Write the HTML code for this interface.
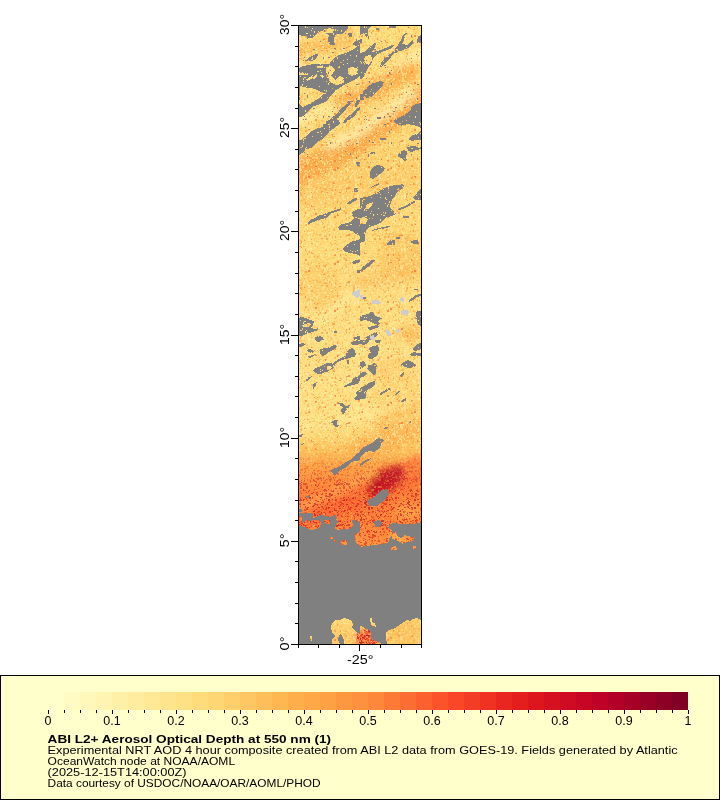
<!DOCTYPE html>
<html><head><meta charset="utf-8"><style>
html,body{margin:0;padding:0;background:#fff;width:720px;height:800px;overflow:hidden}
svg{position:absolute;left:0;top:0;display:block}
text{font-family:"Liberation Sans",sans-serif;fill:#000}
.ax{font-size:12.5px}
.cb{font-size:12.5px}
.lg{font-size:11.3px}
.lgb{font-size:11.3px;font-weight:bold}
</style></head><body>
<svg width="720" height="800" viewBox="0 0 720 800" shape-rendering="crispEdges">
<rect x="0" y="0" width="720" height="800" fill="#fff"/>
<g id="map">
<rect x="298" y="25" width="124" height="620" fill="#fed98a"/>
<defs>
<clipPath id="mc"><rect x="299" y="26" width="122" height="618"/></clipPath>
<clipPath id="z00"><rect x="298" y="20" width="62" height="80"/></clipPath>
<clipPath id="z10"><rect x="360" y="20" width="62" height="80"/></clipPath>
<clipPath id="z01"><rect x="298" y="100" width="62" height="80"/></clipPath>
<clipPath id="z11"><rect x="360" y="100" width="62" height="80"/></clipPath>
<clipPath id="z02"><rect x="298" y="180" width="62" height="80"/></clipPath>
<clipPath id="z12"><rect x="360" y="180" width="62" height="80"/></clipPath>
<clipPath id="z03"><rect x="298" y="260" width="62" height="80"/></clipPath>
<clipPath id="z13"><rect x="360" y="260" width="62" height="80"/></clipPath>
<clipPath id="z04"><rect x="298" y="340" width="62" height="80"/></clipPath>
<clipPath id="z14"><rect x="360" y="340" width="62" height="80"/></clipPath>
<clipPath id="z05"><rect x="298" y="420" width="62" height="80"/></clipPath>
<clipPath id="z15"><rect x="360" y="420" width="62" height="80"/></clipPath>
<clipPath id="z06"><rect x="298" y="500" width="62" height="80"/></clipPath>
<clipPath id="z16"><rect x="360" y="500" width="62" height="80"/></clipPath>
<clipPath id="z07"><rect x="298" y="580" width="62" height="80"/></clipPath>
<clipPath id="z17"><rect x="360" y="580" width="62" height="80"/></clipPath>
<clipPath id="zA1"><rect x="326" y="100" width="34" height="32"/></clipPath>
<clipPath id="zA2"><rect x="298" y="60" width="44" height="40"/></clipPath>
<clipPath id="zA3"><rect x="360" y="480" width="62" height="30"/></clipPath>
<pattern id="hol" width="59" height="61" patternUnits="userSpaceOnUse" x="299" y="26"><path fill="#000" d="M20 60h1v1h-1zM25 41h1v1h-1zM4 52h1v1h-1zM4 53h1v1h-1zM6 23h1v1h-1zM6 24h1v1h-1zM3 58h1v1h-1zM3 59h1v1h-1zM13 2h1v1h-1zM27 26h1v1h-1zM15 5h1v1h-1zM15 6h1v1h-1zM27 3h1v1h-1zM27 4h1v1h-1zM7 60h1v1h-1zM40 40h1v1h-1zM40 41h1v1h-1zM3 36h1v1h-1zM3 37h1v1h-1zM25 3h1v1h-1zM2 35h1v1h-1zM18 26h1v1h-1zM34 7h1v1h-1zM34 8h1v1h-1zM19 35h1v1h-1zM6 37h1v1h-1zM6 38h1v1h-1zM40 12h1v1h-1zM6 35h1v1h-1zM36 3h1v1h-1zM36 4h1v1h-1zM13 31h1v1h-1zM13 32h1v1h-1zM27 49h1v1h-1zM29 37h1v1h-1zM30 37h1v1h-1zM23 19h1v1h-1zM50 11h1v1h-1zM5 36h1v1h-1zM33 31h1v1h-1zM46 28h1v1h-1zM38 4h1v1h-1zM32 26h1v1h-1zM48 21h1v1h-1zM31 26h1v1h-1zM42 4h1v1h-1zM42 5h1v1h-1zM36 50h1v1h-1zM21 44h1v1h-1zM38 31h1v1h-1zM38 32h1v1h-1zM51 29h1v1h-1zM53 5h1v1h-1zM30 44h1v1h-1zM3 46h1v1h-1zM41 36h1v1h-1zM42 36h1v1h-1zM18 45h1v1h-1zM19 45h1v1h-1zM56 42h1v1h-1zM1 60h1v1h-1zM2 60h1v1h-1zM22 10h1v1h-1zM22 11h1v1h-1zM7 31h1v1h-1zM13 49h1v1h-1zM8 47h1v1h-1zM25 25h1v1h-1zM26 25h1v1h-1zM5 10h1v1h-1zM6 10h1v1h-1zM25 35h1v1h-1zM56 8h1v1h-1zM57 8h1v1h-1zM55 35h1v1h-1zM45 26h1v1h-1zM43 56h1v1h-1zM44 56h1v1h-1zM14 9h1v1h-1zM11 9h1v1h-1zM42 14h1v1h-1zM31 53h1v1h-1zM31 54h1v1h-1zM11 16h1v1h-1zM0 9h1v1h-1zM1 9h1v1h-1zM34 23h1v1h-1zM34 24h1v1h-1zM36 20h1v1h-1zM44 54h1v1h-1zM44 55h1v1h-1zM39 41h1v1h-1zM29 57h1v1h-1zM29 58h1v1h-1zM25 6h1v1h-1zM26 6h1v1h-1zM40 25h1v1h-1zM12 4h1v1h-1zM28 10h1v1h-1zM21 38h1v1h-1zM6 0h1v1h-1zM6 1h1v1h-1zM9 34h1v1h-1zM23 39h1v1h-1zM4 55h1v1h-1zM39 24h1v1h-1zM40 16h1v1h-1zM38 23h1v1h-1zM39 23h1v1h-1zM7 7h1v1h-1zM8 7h1v1h-1zM29 30h1v1h-1zM30 30h1v1h-1zM19 5h1v1h-1zM6 47h1v1h-1zM47 16h1v1h-1zM48 16h1v1h-1zM53 44h1v1h-1zM33 1h1v1h-1zM33 23h1v1h-1zM44 34h1v1h-1zM48 33h1v1h-1zM41 55h1v1h-1zM22 49h1v1h-1zM34 34h1v1h-1zM34 35h1v1h-1zM21 40h1v1h-1zM39 51h1v1h-1zM51 15h1v1h-1zM52 15h1v1h-1zM47 51h1v1h-1zM12 33h1v1h-1zM13 33h1v1h-1zM22 46h1v1h-1zM1 50h1v1h-1zM30 16h1v1h-1zM44 38h1v1h-1zM28 51h1v1h-1zM23 5h1v1h-1zM6 14h1v1h-1zM7 14h1v1h-1zM12 21h1v1h-1zM30 39h1v1h-1zM30 40h1v1h-1zM53 0h1v1h-1zM54 0h1v1h-1zM58 41h1v1h-1zM51 41h1v1h-1zM53 42h1v1h-1zM58 24h1v1h-1zM30 56h1v1h-1zM27 50h1v1h-1zM5 51h1v1h-1zM6 51h1v1h-1zM29 25h1v1h-1zM46 10h1v1h-1zM8 1h1v1h-1zM37 57h1v1h-1zM38 57h1v1h-1zM39 52h1v1h-1zM39 53h1v1h-1zM30 42h1v1h-1zM9 35h1v1h-1zM9 36h1v1h-1zM51 46h1v1h-1zM33 47h1v1h-1zM27 55h1v1h-1zM52 55h1v1h-1zM1 16h1v1h-1zM18 32h1v1h-1zM48 37h1v1h-1zM16 34h1v1h-1zM17 34h1v1h-1zM53 8h1v1h-1zM58 47h1v1h-1zM57 29h1v1h-1zM57 30h1v1h-1zM52 57h1v1h-1zM52 58h1v1h-1z"/></pattern><pattern id="gsp" width="61" height="59" patternUnits="userSpaceOnUse" x="299" y="26"><path fill="#fff" d="M14 23h1v1h-1zM15 23h1v1h-1zM8 12h1v1h-1zM5 8h1v1h-1zM51 32h1v1h-1zM25 41h1v1h-1zM29 31h1v1h-1zM30 31h1v1h-1zM24 31h1v1h-1zM24 32h1v1h-1zM12 57h1v1h-1zM13 57h1v1h-1zM5 31h1v1h-1zM48 1h1v1h-1zM33 26h1v1h-1zM34 26h1v1h-1zM57 58h1v1h-1zM58 58h1v1h-1zM46 7h1v1h-1zM6 52h1v1h-1zM24 39h1v1h-1zM25 39h1v1h-1zM6 42h1v1h-1zM21 15h1v1h-1zM31 57h1v1h-1zM31 58h1v1h-1zM57 13h1v1h-1zM57 14h1v1h-1zM51 9h1v1h-1zM51 10h1v1h-1zM4 34h1v1h-1zM31 44h1v1h-1zM9 55h1v1h-1zM9 56h1v1h-1zM29 46h1v1h-1zM29 47h1v1h-1zM56 28h1v1h-1zM35 22h1v1h-1zM36 22h1v1h-1zM8 10h1v1h-1zM8 11h1v1h-1zM6 34h1v1h-1zM44 22h1v1h-1zM45 22h1v1h-1z"/></pattern>
<mask id="gm" maskUnits="userSpaceOnUse" x="290" y="20" width="140" height="630">
<g clip-path="url(#z00)"><polygon points="298.50,25.50 324.00,25.50 324.00,29.00 322.00,31.00 318.00,32.00 316.50,34.00 313.00,37.50 308.00,38.00 305.50,35.50 302.00,36.00 298.50,35.00" fill="#fff"/><polygon points="324.00,25.50 348.00,25.50 348.00,28.00 345.50,31.50 342.00,34.00 338.00,33.50 335.00,35.00 334.00,40.00 335.00,45.00 332.00,45.50 329.00,44.00 328.00,40.00 329.00,35.00 326.00,34.00 324.00,32.00" fill="#fff"/><polygon points="348.00,33.00 352.00,33.00 352.00,37.00 349.00,37.00" fill="#fff"/><polygon points="352.00,44.00 356.00,41.00 360.00,40.00 360.00,45.00 356.00,46.00" fill="#fff"/><polygon points="306.00,61.00 308.00,58.00 312.00,56.00 317.00,53.50 318.00,55.00 316.00,58.50 313.00,60.50 309.50,61.50" fill="#fff"/><polygon points="298.80,68.00 302.00,66.50 306.00,65.50 311.00,64.50 317.00,64.00 321.00,63.50 325.00,64.50 329.00,63.00 333.00,60.00 335.00,57.50 338.00,55.50 342.00,54.00 346.00,53.00 350.00,51.00 354.00,49.00 358.00,46.00 360.00,45.00 360.00,76.00 356.00,79.00 350.00,82.00 344.00,85.00 338.00,89.00 334.00,92.00 330.00,96.00 328.00,100.00 306.00,100.00 298.80,100.00" fill="#fff"/><polygon points="325.00,29.00 330.00,28.00 334.00,29.50 333.00,33.00 328.00,33.50 325.50,32.00" fill="#000"/><polygon points="299.50,87.00 312.00,88.00 324.00,93.00 318.00,99.00 311.00,103.00 303.00,107.00 299.50,103.00" fill="#000"/><polygon points="326.00,67.00 332.00,66.00 335.00,70.00 331.00,76.00 335.00,80.00 340.00,76.00 344.00,78.00 342.00,84.00 336.00,85.00 330.00,82.00 328.00,76.00 326.00,72.00" fill="#000"/><polygon points="348.00,68.00 353.00,67.00 358.00,69.00 357.00,74.00 352.00,76.00 348.00,74.00" fill="#000"/><polygon points="317.00,66.00 323.00,65.50 323.00,68.00 317.00,68.50" fill="#000"/></g>
<g clip-path="url(#z10)"><polygon points="360.00,25.50 371.00,25.50 370.00,28.00 367.50,30.00 368.00,36.00 366.00,37.00 364.00,33.00 362.00,34.00 360.00,35.00" fill="#fff"/><polygon points="376.00,27.80 379.00,27.80 379.00,29.50 376.00,29.50" fill="#fff"/><polygon points="389.00,26.00 396.00,26.00 395.50,27.80 389.50,27.80" fill="#fff"/><polygon points="360.00,39.00 362.00,39.00 362.00,43.00 360.00,43.00" fill="#fff"/><polygon points="360.00,53.00 364.00,52.00 367.00,49.00 371.00,46.00 375.00,42.50 376.50,43.00 374.00,49.00 372.00,52.00 377.00,51.00 383.00,49.00 388.00,47.00 393.00,44.50 394.50,45.00 392.00,48.00 387.00,50.00 380.00,53.00 376.00,55.00 373.00,59.00 371.00,64.00 368.00,68.00 366.00,72.00 364.00,76.00 361.00,79.00 360.00,79.00" fill="#fff"/><polygon points="380.00,67.00 381.50,62.00 385.00,58.00 389.00,54.50 393.00,52.00 394.50,53.00 391.00,57.00 387.00,61.00 384.00,64.00 382.00,67.00" fill="#fff"/><polygon points="395.00,50.00 398.00,45.00 401.00,40.00 403.00,35.00 405.00,33.00 406.00,34.00 404.00,40.00 402.00,44.00 407.00,45.00 411.00,41.00 413.00,40.00 412.50,44.00 408.00,48.00 403.00,50.00 398.00,52.00 395.50,53.00" fill="#fff"/><polygon points="417.50,36.00 421.50,35.00 421.50,43.00 417.00,43.50 417.50,40.00" fill="#fff"/><polygon points="363.00,92.00 365.00,89.00 370.00,85.00 375.00,83.00 380.00,81.00 384.00,82.00 383.00,85.00 379.00,89.00 375.00,93.00 371.00,97.00 367.00,98.00 364.00,96.00" fill="#fff"/><polygon points="360.00,94.00 364.00,94.00 364.00,100.00 360.00,100.00" fill="#fff"/><polygon points="365.00,56.00 371.00,55.00 372.00,60.00 369.00,65.00 366.00,64.00 364.00,60.00" fill="#000"/></g>
<g clip-path="url(#z01)"><polygon points="298.80,99.00 318.00,99.00 327.00,99.00 327.00,100.00 325.00,102.00 320.00,104.00 314.00,106.00 310.00,109.00 307.00,113.00 303.00,116.00 298.80,117.50" fill="#fff"/><polygon points="298.80,140.00 301.00,140.00 305.00,137.00 309.00,133.00 314.00,130.00 321.00,127.00 326.00,124.00 330.00,121.00 333.00,117.50 336.00,115.00 340.00,123.00 337.00,126.00 333.00,129.00 329.00,132.00 325.00,136.00 321.00,140.00 316.00,143.00 313.00,147.00 307.00,149.00 302.00,153.00 298.80,156.00" fill="#fff"/><polygon points="356.00,162.00 360.00,162.00 360.00,166.00 357.00,166.00" fill="#fff"/><polygon points="298.80,87.00 312.00,88.00 324.00,93.00 318.00,99.00 311.00,103.00 303.00,107.00 298.80,103.00" fill="#000"/></g>
<g clip-path="url(#z11)"><polygon points="393.00,121.00 398.00,118.00 404.00,115.00 410.00,111.00 412.00,106.00 416.00,104.00 421.50,103.00 421.50,128.00 417.00,126.00 412.00,125.00 407.00,124.00 402.00,126.00 399.00,125.00 396.00,124.00" fill="#fff"/><polygon points="409.00,138.00 413.00,135.00 417.00,134.00 420.00,131.00 421.50,130.00 421.50,140.00 416.00,140.00 412.00,141.00 409.50,140.00" fill="#fff"/><polygon points="407.00,147.00 413.00,146.00 418.00,147.00 421.50,146.00 421.50,149.00 416.00,150.00 412.00,152.00 408.00,151.00" fill="#fff"/><polygon points="398.00,154.00 401.00,151.00 405.00,150.00 407.00,153.00 406.00,157.00 407.00,160.00 404.00,161.00 401.00,158.00 398.00,157.00" fill="#fff"/><polygon points="371.00,169.00 374.00,166.00 378.00,165.00 382.00,166.00 385.00,168.00 383.00,172.00 380.00,174.00 376.00,177.00 373.00,179.00 370.00,178.00 370.00,173.00" fill="#fff"/><polygon points="370.00,152.00 375.00,152.00 375.00,154.00 370.00,154.00" fill="#fff"/><polygon points="380.00,138.00 386.00,137.50 386.00,139.50 380.00,139.50" fill="#fff"/><polygon points="377.00,117.00 381.00,117.00 381.00,119.00 377.00,119.00" fill="#fff"/></g>
<g clip-path="url(#z02)"><polygon points="307.00,223.00 310.00,220.00 315.00,218.00 320.00,215.00 326.00,213.00 332.00,211.00 338.00,209.00 341.00,208.00 341.00,210.00 335.00,212.00 330.00,214.00 326.00,218.00 321.00,219.00 316.00,221.00 311.00,223.00 308.00,224.00" fill="#fff"/><polygon points="346.00,204.00 350.00,201.00 354.00,198.50 357.00,198.00 357.00,200.00 353.00,202.00 349.00,204.50" fill="#fff"/><polygon points="352.00,212.00 358.00,209.00 360.00,208.00 360.00,236.00 356.00,234.00 352.00,231.00 348.00,230.00 344.00,230.00 339.00,229.50 338.00,227.00 342.00,224.00 348.00,223.00 352.00,221.00 354.00,218.00 352.00,215.00" fill="#fff"/><polygon points="343.00,248.00 348.00,244.00 353.00,241.00 358.00,240.00 360.00,239.00 360.00,256.00 356.00,254.00 350.00,253.00 346.00,252.00 343.00,250.00" fill="#fff"/><polygon points="354.00,188.00 358.00,188.00 358.00,192.00 354.00,192.00" fill="#fff"/></g>
<g clip-path="url(#z12)"><polygon points="360.00,198.00 366.00,197.00 372.00,195.00 378.00,192.00 384.00,188.00 390.00,186.00 396.00,185.00 402.00,184.00 404.00,186.00 402.00,189.00 398.00,191.00 395.00,196.00 392.00,200.00 390.00,205.00 390.00,208.00 394.00,212.00 396.00,214.00 392.00,216.00 387.00,217.00 383.00,220.00 380.00,223.00 376.00,225.00 372.00,226.00 368.00,228.00 366.00,231.00 365.00,236.00 365.00,241.00 362.00,242.00 360.00,243.00" fill="#fff"/><polygon points="413.00,197.00 417.00,193.00 421.50,188.00 421.50,200.00 418.00,200.00 415.00,200.00" fill="#fff"/><polygon points="398.00,209.00 405.00,206.00 414.00,201.00 416.00,202.00 406.00,207.50 399.00,210.50" fill="#fff"/><polygon points="403.00,216.00 409.00,216.00 409.00,218.00 403.00,218.00" fill="#fff"/><polygon points="387.00,243.00 390.00,240.50 395.00,240.00 395.00,245.00 390.00,245.50 387.00,245.00" fill="#fff"/><polygon points="410.00,242.00 414.00,240.00 418.00,240.00 419.00,244.00 414.00,244.00" fill="#fff"/><polygon points="396.00,237.00 400.00,237.00 400.00,239.00 396.00,239.00" fill="#fff"/><polygon points="372.00,230.00 378.00,228.00 384.00,227.00 390.00,225.50 390.00,227.00 384.00,228.50 378.00,229.50 372.50,231.00" fill="#fff"/><polygon points="371.00,187.00 375.00,185.00 379.00,183.00 379.50,184.00 375.50,186.00 371.50,187.80" fill="#fff"/><polygon points="360.00,218.00 364.00,217.00 368.00,219.00 366.00,223.00 362.00,224.00 360.00,224.00" fill="#000"/><polygon points="366.00,205.00 370.00,203.00 373.00,202.00 372.00,206.00 368.00,209.00 366.00,209.00" fill="#000"/></g>
<g clip-path="url(#z03)"><polygon points="298.80,318.00 302.00,317.00 306.00,318.00 310.00,320.00 314.00,321.00 313.00,325.00 311.00,328.00 315.00,329.00 318.00,328.00 318.00,330.00 313.00,332.00 308.00,333.00 304.00,335.00 301.00,336.00 298.80,336.00" fill="#fff"/><polygon points="315.00,337.00 318.00,336.00 323.00,337.00 324.00,340.00 315.00,340.00" fill="#fff"/><polygon points="354.00,337.00 360.00,336.00 360.00,340.00 354.00,340.00" fill="#fff"/><polygon points="351.00,263.00 356.00,260.00 360.00,260.00 360.00,262.00 354.00,264.00" fill="#fff"/><polygon points="357.00,270.00 360.00,270.00 360.00,273.00 357.00,273.00" fill="#fff"/><polygon points="334.00,331.00 337.00,331.00 337.00,333.00 334.00,333.00" fill="#fff"/><polygon points="302.00,325.00 308.00,323.00 312.00,324.00 308.00,327.00 303.00,327.00" fill="#000"/></g>
<g clip-path="url(#z13)"><polygon points="360.00,269.00 364.00,266.00 368.00,263.00 371.00,260.00 376.00,260.00 372.00,263.00 368.00,267.00 364.00,270.00 360.00,271.50" fill="#fff"/><polygon points="363.00,297.00 366.00,297.00 366.00,299.00 363.00,299.00" fill="#fff"/><polygon points="360.00,316.00 364.00,315.00 368.00,314.00 371.00,312.00 373.00,311.50 374.00,315.00 378.00,317.00 382.00,318.00 381.00,320.00 377.00,321.00 380.00,324.00 378.00,325.00 373.00,323.00 369.00,321.00 365.00,320.00 360.00,321.00" fill="#fff"/><polygon points="367.00,328.00 372.00,326.00 377.00,325.00 379.00,327.00 374.00,329.00 369.00,330.00" fill="#fff"/><polygon points="366.00,337.00 372.00,334.00 377.00,332.00 378.00,335.00 374.00,338.00 371.00,340.00 366.00,340.00" fill="#fff"/><polygon points="416.00,311.00 420.00,311.00 421.50,310.00 421.50,326.00 418.00,325.00 417.00,321.00 416.00,316.00" fill="#fff"/><polygon points="408.00,301.00 412.00,298.00 416.00,295.00 420.00,294.00 421.50,293.00 421.50,296.00 417.00,297.00 413.00,300.00 409.00,302.00" fill="#fff"/><polygon points="414.00,289.00 418.00,289.00 418.00,290.00 414.00,290.00" fill="#fff"/></g>
<g clip-path="url(#z04)"><polygon points="298.80,344.00 303.00,343.00 305.00,345.00 301.00,347.00 298.80,347.50" fill="#fff"/><polygon points="316.00,340.00 321.00,340.00 320.00,342.00 317.00,342.00" fill="#fff"/><polygon points="306.00,350.00 310.00,349.00 314.00,351.00 312.00,353.00 308.00,352.00" fill="#fff"/><polygon points="307.00,357.00 312.00,355.00 315.00,354.00 314.00,356.00 310.00,358.00" fill="#fff"/><polygon points="313.00,370.00 317.00,367.50 322.00,365.50 326.00,363.50 330.00,363.00 333.00,364.00 335.00,365.50 333.00,368.50 330.00,370.00 327.00,372.00 322.00,373.50 318.00,374.00 315.00,373.00" fill="#fff"/><polygon points="332.00,364.50 335.00,361.50 338.00,359.50 342.00,357.50 345.50,356.00 347.00,352.00 349.00,349.50 352.50,348.00 354.50,350.00 356.00,354.00 354.50,357.00 351.00,357.50 348.00,358.50 344.00,359.50 340.00,361.00 337.00,363.00 334.50,365.00" fill="#fff"/><polygon points="346.50,359.50 348.50,359.50 348.50,364.00 347.00,363.50" fill="#fff"/><polygon points="320.00,349.00 325.00,348.00 330.00,347.00 334.00,345.00 337.00,346.00 335.00,349.00 331.00,351.00 328.00,352.00 325.00,355.00 322.00,356.00 320.00,353.00" fill="#fff"/><polygon points="350.00,343.00 354.00,341.00 358.00,340.00 360.00,340.00 360.00,344.00 356.00,345.00 352.00,345.00" fill="#fff"/><polygon points="305.00,380.00 309.00,377.00 312.00,376.00 311.00,378.00 307.00,381.00" fill="#fff"/><polygon points="344.00,386.00 348.00,384.00 352.00,382.00 353.00,378.00 357.00,377.00 360.00,375.00 360.00,382.00 357.00,384.00 353.00,385.00 348.00,386.00 345.00,387.50" fill="#fff"/><polygon points="356.00,392.00 360.00,390.00 360.00,400.00 355.00,400.00 354.00,398.00 357.00,396.00" fill="#fff"/><polygon points="338.00,403.00 342.00,403.00 346.00,406.00 350.00,405.00 349.00,408.00 346.00,410.00 344.00,414.00 342.00,414.00 341.00,410.00 343.00,407.00 339.00,405.00" fill="#fff"/><polygon points="313.00,384.00 317.00,382.00 316.00,385.00 314.00,388.00 313.00,390.00 312.50,387.00" fill="#fff"/><polygon points="326.50,366.50 330.00,365.50 332.00,367.00 330.00,369.50 327.50,369.50" fill="#000"/></g>
<g clip-path="url(#z14)"><polygon points="360.00,340.00 370.00,340.00 368.00,343.00 364.00,345.00 360.00,344.00" fill="#fff"/><polygon points="375.00,340.00 381.00,340.00 381.00,342.50 376.00,343.00" fill="#fff"/><polygon points="369.00,347.00 374.00,346.00 378.00,345.00 379.00,348.00 378.00,355.00 375.00,357.00 372.00,359.00 369.00,359.00 368.00,356.00 370.00,352.00" fill="#fff"/><polygon points="367.00,366.00 371.00,364.00 374.00,363.00 377.00,365.00 376.00,369.00 376.00,374.00 373.00,375.00 370.00,371.00 367.00,369.00" fill="#fff"/><polygon points="360.00,362.00 364.00,361.00 366.00,365.00 363.00,368.00 360.00,369.00" fill="#fff"/><polygon points="360.00,373.00 364.00,372.00 367.00,373.00 364.00,377.00 360.00,378.00" fill="#fff"/><polygon points="360.00,388.00 366.00,385.00 371.00,382.00 375.00,381.00 375.00,384.00 371.00,388.00 367.00,390.00 366.00,394.00 366.00,398.00 363.00,399.00 360.00,398.50" fill="#fff"/><polygon points="412.00,349.00 416.00,345.00 420.00,343.00 421.50,343.00 421.50,349.00 418.00,350.00 415.00,351.00" fill="#fff"/><polygon points="410.00,354.00 414.00,352.00 418.00,353.00 421.50,353.00 421.50,356.00 416.00,356.00 411.00,356.00" fill="#fff"/><polygon points="400.00,365.00 404.00,362.00 408.00,360.00 412.00,362.00 416.00,365.00 414.00,367.00 409.00,368.00 405.00,367.00 402.00,366.00" fill="#fff"/><polygon points="400.00,376.00 403.00,372.00 404.50,373.00 402.00,377.00" fill="#fff"/><polygon points="379.00,394.00 384.00,391.00 389.00,388.00 391.00,389.00 386.00,392.00 381.00,395.00" fill="#fff"/><polygon points="395.00,395.00 398.00,391.50 400.50,390.50 399.00,393.00 396.00,395.50" fill="#fff"/><polygon points="400.00,402.00 404.00,399.00 406.00,397.00 406.50,400.00 402.00,402.50" fill="#fff"/></g>
<g clip-path="url(#z05)"><polygon points="331.00,422.00 335.00,420.00 338.00,420.00 337.00,423.00 339.00,426.00 336.00,427.50 334.00,425.00 332.00,424.00" fill="#fff"/><polygon points="298.80,435.00 303.00,434.00 302.00,436.50 298.80,437.00" fill="#fff"/><polygon points="301.00,444.00 304.00,443.00 304.00,445.00 301.00,445.50" fill="#fff"/><polygon points="331.00,470.00 335.00,468.00 339.00,467.00 343.00,464.00 346.00,462.00 350.00,460.00 352.00,458.00 354.00,456.00 358.00,453.00 360.00,452.00 360.00,460.00 357.00,461.00 354.00,461.00 351.00,462.00 348.00,465.00 345.00,468.00 341.00,470.00 338.00,472.00 335.00,475.00 332.00,473.00" fill="#fff"/><polygon points="306.00,496.00 309.00,495.00 310.00,497.00 307.00,498.00" fill="#fff"/></g>
<g clip-path="url(#z15)"><polygon points="360.00,450.00 364.00,447.00 368.00,445.00 372.00,443.00 376.00,439.00 380.00,438.00 384.00,440.00 382.00,442.00 380.00,447.00 377.00,450.00 374.00,452.00 370.00,451.00 366.00,452.00 362.00,455.00 360.00,457.00" fill="#fff"/><polygon points="360.00,464.00 364.00,461.00 368.00,459.00 371.00,458.00 370.00,460.00 366.00,462.00 362.00,465.00 360.00,466.00" fill="#fff"/><polygon points="383.00,428.00 387.00,427.00 388.00,428.00 385.00,429.50" fill="#fff"/><polygon points="380.00,492.00 384.00,490.00 386.50,491.00 384.00,493.50 381.00,493.50" fill="#fff"/><polygon points="409.00,421.00 411.00,421.00 411.00,423.00 409.00,423.00" fill="#fff"/></g>
<g clip-path="url(#z06)"><polygon points="299.00,513.00 302.00,513.50 306.00,513.00 310.00,512.50 313.00,514.00 313.50,518.00 318.00,516.00 322.00,515.00 326.00,516.00 329.00,517.00 332.00,516.00 336.00,515.00 337.00,518.00 336.00,520.00 338.00,522.00 336.00,525.00 335.00,529.00 338.00,530.00 344.00,529.00 350.00,529.00 353.00,525.00 352.00,520.00 355.00,520.00 358.00,522.00 360.10,520.00 360.10,581.00 299.00,581.00" fill="#fff"/><polygon points="299.00,509.00 302.00,509.00 302.00,511.50 299.00,511.50" fill="#fff"/><polygon points="299.00,516.00 302.00,517.00 302.00,523.00 304.00,522.00 306.00,520.00 310.00,521.00 314.00,520.00 319.00,520.00 321.00,523.00 320.00,527.00 316.00,529.00 311.00,530.00 307.00,528.00 304.00,527.00 301.00,526.00 299.00,526.00" fill="#000"/><polygon points="324.00,520.00 330.00,520.00 330.50,523.50 325.00,523.50" fill="#000"/><polygon points="355.00,534.00 360.10,532.00 360.10,547.00 356.00,543.00 355.00,539.00" fill="#000"/><polygon points="330.00,537.00 333.00,537.00 333.00,539.00 330.00,539.00" fill="#000"/><polygon points="334.00,540.00 336.00,540.00 336.00,542.00 334.00,542.00" fill="#000"/><polygon points="340.00,542.00 344.00,540.00 347.00,540.00 347.00,545.00 342.00,545.00" fill="#000"/></g>
<g clip-path="url(#z16)"><polygon points="350.00,519.00 353.00,520.00 356.00,523.00 356.00,529.00 354.00,532.00 355.00,535.00 356.00,540.00 357.00,544.00 360.00,547.00 365.00,546.00 375.00,545.00 383.00,544.00 389.00,542.00 389.00,538.00 392.00,535.00 392.00,530.00 388.00,528.00 390.00,524.00 393.00,523.00 402.00,524.00 410.00,524.50 418.00,523.00 422.00,522.00 422.00,581.00 350.00,581.00" fill="#fff"/><polygon points="368.00,502.00 374.00,501.00 374.00,506.00 369.00,506.00" fill="#fff"/><polygon points="374.00,521.00 379.00,520.00 382.00,523.00 380.00,527.00 375.00,527.00" fill="#fff"/><polygon points="392.00,533.00 396.00,532.00 397.00,536.00 401.00,538.00 404.00,535.00 408.00,536.00 414.00,538.00 413.00,541.00 407.00,542.00 402.00,544.00 400.00,542.00 396.00,540.00 392.00,539.00" fill="#000"/><polygon points="391.00,547.00 396.00,546.00 397.00,550.00 391.00,550.00" fill="#000"/><polygon points="413.00,546.00 416.00,546.00 416.00,549.00 413.00,549.00" fill="#000"/></g>
<g clip-path="url(#z07)"><polygon points="298.80,580.00 360.00,580.00 360.00,646.00 298.80,646.00" fill="#fff"/><polygon points="332.00,623.00 335.00,620.00 340.00,620.00 344.00,618.00 348.00,619.00 352.00,621.00 353.00,624.00 352.00,628.00 356.00,632.00 360.00,634.00 360.00,644.00 344.00,644.00 344.00,640.00 342.00,636.00 340.00,634.00 338.00,640.00 340.00,644.00 332.00,644.00 332.00,640.00 335.00,636.00 332.00,632.00 331.00,628.00" fill="#000"/><polygon points="310.00,636.00 312.00,636.00 312.50,641.00 311.00,641.00" fill="#000"/></g>
<g clip-path="url(#z17)"><polygon points="360.00,580.00 421.50,580.00 421.50,646.00 360.00,646.00" fill="#fff"/><polygon points="360.00,626.00 363.00,627.00 366.00,629.00 369.00,630.00 371.00,633.00 371.00,638.00 374.00,641.00 380.00,642.00 381.00,644.00 360.00,644.00" fill="#000"/><polygon points="370.00,618.00 371.50,618.00 371.50,622.00 375.00,623.00 376.00,627.00 373.00,626.00 371.00,625.00 370.50,622.00" fill="#000"/><polygon points="386.00,632.00 389.00,630.00 392.00,629.00 395.00,628.00 398.00,626.00 401.00,624.00 404.00,622.00 407.00,620.00 410.00,621.00 413.00,619.00 417.00,618.00 419.00,619.00 421.50,620.00 421.50,644.00 387.00,644.00 386.00,638.00" fill="#000"/></g>
<g clip-path="url(#zA1)"><polygon points="326.00,121.34 329.67,120.12 333.33,116.45 336.39,114.62 338.22,112.17 341.28,107.89 344.34,106.67 347.39,101.78 350.45,100.56 352.89,101.17 351.67,103.00 349.23,104.84 346.78,107.89 345.56,110.34 342.50,113.39 340.06,115.23 338.22,118.28 336.39,119.51 333.95,122.56 331.50,125.01 329.67,128.67 327.83,132.04 326.00,132.04" fill="#fff"/><polygon points="343.11,121.95 345.56,118.89 348.00,116.45 351.67,114.00 353.51,112.17 355.34,109.73 357.78,107.89 360.23,107.28 360.23,109.11 357.78,111.56 355.34,115.23 352.89,117.67 350.45,118.89 348.00,120.73 345.56,122.56 343.73,123.17" fill="#fff"/><polygon points="354.73,104.22 356.56,101.17 359.01,98.11 361.45,95.67 363.29,94.44 363.90,95.67 362.06,98.11 360.23,101.17 358.40,104.22 356.56,106.67 355.34,106.67" fill="#fff"/><polygon points="363.90,94.44 367.56,93.83 370.01,93.83 370.01,98.11 367.56,98.11" fill="#fff"/></g>
<g clip-path="url(#zA2)"><polygon points="305.95,79.56 309.00,77.73 311.45,75.89 313.28,77.73 310.22,79.56 307.17,80.78" fill="#000"/><polygon points="312.67,78.34 315.11,75.28 316.95,74.06 317.56,75.89 315.73,78.34 313.89,79.56" fill="#000"/><polygon points="299.22,72.22 304.11,73.45 307.78,74.06 307.78,75.28 302.89,75.28 299.22,74.67" fill="#000"/><polygon points="320.00,75.28 321.84,74.67 323.67,76.50 322.45,77.73" fill="#000"/></g>
<g clip-path="url(#zA3)"><polygon points="366.80,500.85 373.58,497.46 380.36,490.68 387.14,488.98 388.83,494.07 383.75,500.85 376.97,505.93 370.19,505.93" fill="#fff"/></g>
<rect x="299" y="26" width="122" height="140" fill="url(#gsp)"/>
<rect x="299" y="26" width="122" height="420" fill="url(#hol)"/>
</mask>
</defs>
<g clip-path="url(#mc)">
<defs><linearGradient id="gy" x1="0" y1="26" x2="0" y2="644" gradientUnits="userSpaceOnUse"><stop offset="0.0000" stop-color="#fff" stop-opacity="1"/><stop offset="0.6699" stop-color="#fff" stop-opacity="1"/><stop offset="0.7104" stop-color="#fff" stop-opacity="0.3"/><stop offset="0.7508" stop-color="#fff" stop-opacity="0"/><stop offset="0.8398" stop-color="#fff" stop-opacity="0"/><stop offset="0.8641" stop-color="#fff" stop-opacity="0.6"/><stop offset="1.0000" stop-color="#fff" stop-opacity="0.8"/></linearGradient>
<linearGradient id="gr" x1="0" y1="26" x2="0" y2="644" gradientUnits="userSpaceOnUse"><stop offset="0.0000" stop-color="#fff" stop-opacity="0"/><stop offset="0.6893" stop-color="#fff" stop-opacity="0"/><stop offset="0.7314" stop-color="#fff" stop-opacity="0.6"/><stop offset="0.7540" stop-color="#fff" stop-opacity="0.9"/><stop offset="0.8155" stop-color="#fff" stop-opacity="0.9"/><stop offset="0.8447" stop-color="#fff" stop-opacity="0.6"/><stop offset="0.8641" stop-color="#fff" stop-opacity="0"/><stop offset="1.0000" stop-color="#fff" stop-opacity="0"/></linearGradient>
<mask id="my" maskUnits="userSpaceOnUse" x="299" y="26" width="122" height="618"><rect x="299" y="26" width="122" height="618" fill="url(#gy)"/></mask>
<mask id="mr" maskUnits="userSpaceOnUse" x="299" y="26" width="122" height="618"><rect x="299" y="26" width="122" height="618" fill="url(#gr)"/><ellipse cx="368" cy="638" rx="12" ry="8" fill="#fff"/></mask>
<pattern id="spo" width="53" height="47" patternUnits="userSpaceOnUse" x="299" y="26"><path fill="#feba54" d="M8 36h1v1h-1zM40 46h1v1h-1zM41 46h1v1h-1zM15 25h1v1h-1zM15 26h1v1h-1zM12 32h1v1h-1zM12 33h1v1h-1zM28 14h1v1h-1zM28 15h1v1h-1zM29 14h1v1h-1zM29 15h1v1h-1zM49 45h1v1h-1zM49 46h1v1h-1zM50 45h1v1h-1zM50 46h1v1h-1zM8 37h1v1h-1zM8 38h1v1h-1zM9 37h1v1h-1zM9 38h1v1h-1zM0 18h1v1h-1zM0 19h1v1h-1zM1 18h1v1h-1zM1 19h1v1h-1zM47 44h1v1h-1zM28 27h1v1h-1zM28 28h1v1h-1zM29 27h1v1h-1zM29 28h1v1h-1zM34 29h1v1h-1zM31 0h1v1h-1zM41 28h1v1h-1zM24 27h1v1h-1zM24 28h1v1h-1zM28 10h1v1h-1zM28 11h1v1h-1zM29 10h1v1h-1zM29 11h1v1h-1zM43 46h1v1h-1zM51 19h1v1h-1zM51 20h1v1h-1zM45 26h1v1h-1zM45 27h1v1h-1zM46 26h1v1h-1zM46 27h1v1h-1zM43 19h1v1h-1zM7 39h1v1h-1zM15 18h1v1h-1zM15 19h1v1h-1zM8 2h1v1h-1zM9 2h1v1h-1zM2 24h1v1h-1zM13 21h1v1h-1zM14 21h1v1h-1zM22 17h1v1h-1zM23 17h1v1h-1zM4 13h1v1h-1zM47 42h1v1h-1zM47 43h1v1h-1zM48 42h1v1h-1zM48 43h1v1h-1zM29 7h1v1h-1zM29 8h1v1h-1zM26 16h1v1h-1zM26 17h1v1h-1zM27 16h1v1h-1zM27 17h1v1h-1zM17 27h1v1h-1zM18 27h1v1h-1zM18 43h1v1h-1zM18 44h1v1h-1zM19 43h1v1h-1zM19 44h1v1h-1zM44 12h1v1h-1zM45 17h1v1h-1zM23 46h1v1h-1zM30 36h1v1h-1zM30 37h1v1h-1zM49 3h1v1h-1zM49 4h1v1h-1zM50 3h1v1h-1zM50 4h1v1h-1zM50 43h1v1h-1zM50 44h1v1h-1zM41 42h1v1h-1zM17 8h1v1h-1zM24 37h1v1h-1z"/><path fill="#fec965" d="M28 30h1v1h-1zM28 31h1v1h-1zM31 32h1v1h-1zM31 33h1v1h-1zM11 35h1v1h-1zM11 36h1v1h-1zM12 35h1v1h-1zM12 36h1v1h-1zM44 20h1v1h-1zM44 21h1v1h-1zM13 3h1v1h-1zM14 3h1v1h-1zM20 6h1v1h-1zM37 38h1v1h-1zM17 35h1v1h-1zM10 3h1v1h-1zM25 36h1v1h-1zM25 37h1v1h-1zM17 15h1v1h-1zM17 16h1v1h-1zM29 32h1v1h-1zM13 5h1v1h-1zM6 26h1v1h-1zM7 26h1v1h-1zM11 26h1v1h-1zM11 27h1v1h-1zM12 26h1v1h-1zM12 27h1v1h-1zM4 40h1v1h-1zM4 41h1v1h-1zM5 40h1v1h-1zM5 41h1v1h-1zM45 31h1v1h-1zM45 32h1v1h-1zM45 3h1v1h-1zM19 27h1v1h-1zM20 27h1v1h-1zM16 9h1v1h-1zM16 10h1v1h-1zM17 9h1v1h-1zM17 10h1v1h-1zM14 40h1v1h-1zM15 40h1v1h-1zM29 3h1v1h-1zM40 11h1v1h-1zM40 12h1v1h-1z"/><path fill="#feab49" d="M1 24h1v1h-1zM1 25h1v1h-1zM38 46h1v1h-1zM22 0h1v1h-1zM22 1h1v1h-1zM23 0h1v1h-1zM23 1h1v1h-1zM5 1h1v1h-1zM5 2h1v1h-1zM22 6h1v1h-1zM25 18h1v1h-1zM8 21h1v1h-1zM10 43h1v1h-1zM19 2h1v1h-1zM20 2h1v1h-1zM31 30h1v1h-1zM16 31h1v1h-1zM37 8h1v1h-1zM4 32h1v1h-1zM5 32h1v1h-1zM13 19h1v1h-1zM14 19h1v1h-1zM23 10h1v1h-1zM23 11h1v1h-1zM42 43h1v1h-1zM17 19h1v1h-1zM17 20h1v1h-1zM18 19h1v1h-1zM18 20h1v1h-1zM22 19h1v1h-1zM22 20h1v1h-1zM23 19h1v1h-1zM23 20h1v1h-1zM43 36h1v1h-1zM43 37h1v1h-1zM25 21h1v1h-1zM25 22h1v1h-1zM26 21h1v1h-1zM26 22h1v1h-1zM17 4h1v1h-1zM42 23h1v1h-1zM42 24h1v1h-1zM25 11h1v1h-1zM25 12h1v1h-1zM10 37h1v1h-1zM10 38h1v1h-1zM31 6h1v1h-1zM46 39h1v1h-1zM46 40h1v1h-1zM9 1h1v1h-1zM12 1h1v1h-1zM12 2h1v1h-1zM35 26h1v1h-1zM35 27h1v1h-1zM36 26h1v1h-1zM36 27h1v1h-1zM27 42h1v1h-1zM27 2h1v1h-1zM37 30h1v1h-1zM0 33h1v1h-1zM8 3h1v1h-1zM8 4h1v1h-1zM9 3h1v1h-1zM9 4h1v1h-1zM9 16h1v1h-1zM26 12h1v1h-1zM44 44h1v1h-1zM29 17h1v1h-1zM30 17h1v1h-1zM16 43h1v1h-1zM17 43h1v1h-1zM34 18h1v1h-1zM34 19h1v1h-1zM33 44h1v1h-1zM3 23h1v1h-1zM51 41h1v1h-1zM32 7h1v1h-1zM37 9h1v1h-1zM9 17h1v1h-1zM10 17h1v1h-1z"/><path fill="#fec25d" d="M44 28h1v1h-1zM45 28h1v1h-1zM39 37h1v1h-1zM39 38h1v1h-1zM40 37h1v1h-1zM40 38h1v1h-1zM21 29h1v1h-1zM21 30h1v1h-1zM22 29h1v1h-1zM22 30h1v1h-1zM15 17h1v1h-1zM10 42h1v1h-1zM11 42h1v1h-1zM24 21h1v1h-1zM24 22h1v1h-1zM27 1h1v1h-1zM36 20h1v1h-1zM36 21h1v1h-1zM19 10h1v1h-1zM19 11h1v1h-1zM51 36h1v1h-1zM4 46h1v1h-1zM16 23h1v1h-1zM17 23h1v1h-1zM36 34h1v1h-1zM12 15h1v1h-1zM12 16h1v1h-1zM13 15h1v1h-1zM13 16h1v1h-1zM20 38h1v1h-1zM20 39h1v1h-1zM39 34h1v1h-1zM39 35h1v1h-1zM38 32h1v1h-1zM38 33h1v1h-1zM39 32h1v1h-1zM39 33h1v1h-1zM52 38h1v1h-1zM1 10h1v1h-1zM1 11h1v1h-1zM2 10h1v1h-1zM2 11h1v1h-1zM5 25h1v1h-1zM6 25h1v1h-1zM29 33h1v1h-1zM19 25h1v1h-1zM11 6h1v1h-1zM28 1h1v1h-1zM28 2h1v1h-1zM29 1h1v1h-1zM29 2h1v1h-1zM19 41h1v1h-1zM19 42h1v1h-1zM20 41h1v1h-1zM20 42h1v1h-1zM29 38h1v1h-1zM30 38h1v1h-1zM34 43h1v1h-1zM35 43h1v1h-1zM37 23h1v1h-1zM37 24h1v1h-1zM14 46h1v1h-1zM49 6h1v1h-1zM49 7h1v1h-1zM48 6h1v1h-1zM30 44h1v1h-1zM31 44h1v1h-1zM23 38h1v1h-1zM23 39h1v1h-1zM7 8h1v1h-1zM19 39h1v1h-1zM24 1h1v1h-1zM46 6h1v1h-1zM47 6h1v1h-1zM17 34h1v1h-1zM39 19h1v1h-1zM39 20h1v1h-1zM18 21h1v1h-1zM18 22h1v1h-1zM7 37h1v1h-1zM24 42h1v1h-1zM24 43h1v1h-1zM25 42h1v1h-1zM25 43h1v1h-1z"/><path fill="#feb24c" d="M6 20h1v1h-1zM44 43h1v1h-1zM45 43h1v1h-1zM46 1h1v1h-1zM46 2h1v1h-1zM32 14h1v1h-1zM47 32h1v1h-1zM18 4h1v1h-1zM46 10h1v1h-1zM46 11h1v1h-1zM37 12h1v1h-1zM37 13h1v1h-1zM18 32h1v1h-1zM18 33h1v1h-1zM43 34h1v1h-1zM43 35h1v1h-1zM34 13h1v1h-1zM35 13h1v1h-1zM24 4h1v1h-1zM24 5h1v1h-1zM25 4h1v1h-1zM25 5h1v1h-1zM50 2h1v1h-1zM51 2h1v1h-1zM37 19h1v1h-1zM8 13h1v1h-1zM36 1h1v1h-1zM30 14h1v1h-1zM30 15h1v1h-1zM46 3h1v1h-1zM46 4h1v1h-1zM37 1h1v1h-1zM16 13h1v1h-1zM1 7h1v1h-1zM1 8h1v1h-1zM2 7h1v1h-1zM2 8h1v1h-1zM33 20h1v1h-1zM44 10h1v1h-1zM44 11h1v1h-1zM23 33h1v1h-1zM41 18h1v1h-1zM37 27h1v1h-1zM10 19h1v1h-1zM10 20h1v1h-1zM11 19h1v1h-1zM11 20h1v1h-1zM21 45h1v1h-1zM48 15h1v1h-1zM49 15h1v1h-1zM1 13h1v1h-1zM28 45h1v1h-1zM29 45h1v1h-1zM24 16h1v1h-1zM19 0h1v1h-1zM16 41h1v1h-1zM50 37h1v1h-1zM33 35h1v1h-1zM33 36h1v1h-1zM34 35h1v1h-1zM34 36h1v1h-1zM18 10h1v1h-1zM25 39h1v1h-1zM25 40h1v1h-1zM26 39h1v1h-1zM26 40h1v1h-1zM34 33h1v1h-1zM34 34h1v1h-1zM28 19h1v1h-1zM38 30h1v1h-1zM48 11h1v1h-1zM48 12h1v1h-1zM49 11h1v1h-1zM49 12h1v1h-1zM40 34h1v1h-1zM14 36h1v1h-1zM43 40h1v1h-1zM44 40h1v1h-1zM33 16h1v1h-1zM33 17h1v1h-1zM47 23h1v1h-1zM6 29h1v1h-1zM21 42h1v1h-1zM46 12h1v1h-1zM46 13h1v1h-1zM47 12h1v1h-1zM47 13h1v1h-1z"/><path fill="#fd7435" d="M0 24h1v1h-1zM36 22h1v1h-1zM36 23h1v1h-1zM35 16h1v1h-1zM6 45h1v1h-1zM6 46h1v1h-1zM7 45h1v1h-1zM7 46h1v1h-1zM2 33h1v1h-1zM17 5h1v1h-1zM38 34h1v1h-1zM38 35h1v1h-1zM6 35h1v1h-1zM6 36h1v1h-1zM1 29h1v1h-1zM1 30h1v1h-1zM34 15h1v1h-1zM34 16h1v1h-1z"/><path fill="#fd8038" d="M33 14h1v1h-1zM33 15h1v1h-1zM46 45h1v1h-1zM46 46h1v1h-1zM47 45h1v1h-1zM47 46h1v1h-1zM27 3h1v1h-1zM27 4h1v1h-1zM5 17h1v1h-1zM22 24h1v1h-1zM22 25h1v1h-1zM23 24h1v1h-1zM23 25h1v1h-1zM19 6h1v1h-1zM19 7h1v1h-1zM51 1h1v1h-1z"/><path fill="#fea346" d="M22 14h1v1h-1zM42 12h1v1h-1zM43 12h1v1h-1zM35 14h1v1h-1zM35 15h1v1h-1zM31 28h1v1h-1zM31 29h1v1h-1zM32 30h1v1h-1zM32 31h1v1h-1zM33 30h1v1h-1zM33 31h1v1h-1zM20 20h1v1h-1zM20 21h1v1h-1zM21 20h1v1h-1zM21 21h1v1h-1zM2 22h1v1h-1zM2 23h1v1h-1zM35 10h1v1h-1zM36 10h1v1h-1zM23 8h1v1h-1zM23 9h1v1h-1zM24 8h1v1h-1zM24 9h1v1h-1zM0 5h1v1h-1zM0 6h1v1h-1zM50 24h1v1h-1zM50 25h1v1h-1zM41 8h1v1h-1zM41 9h1v1h-1zM32 22h1v1h-1zM32 23h1v1h-1zM33 22h1v1h-1zM33 23h1v1h-1zM51 39h1v1h-1zM46 22h1v1h-1zM47 22h1v1h-1zM50 14h1v1h-1zM50 15h1v1h-1zM51 14h1v1h-1zM51 15h1v1h-1z"/><path fill="#fd943f" d="M1 26h1v1h-1zM1 27h1v1h-1zM2 26h1v1h-1zM2 27h1v1h-1zM20 4h1v1h-1zM20 5h1v1h-1zM21 4h1v1h-1zM21 5h1v1h-1zM46 41h1v1h-1zM47 41h1v1h-1zM8 39h1v1h-1zM8 40h1v1h-1zM47 4h1v1h-1zM47 5h1v1h-1zM13 39h1v1h-1zM14 39h1v1h-1zM0 32h1v1h-1zM1 32h1v1h-1zM41 22h1v1h-1zM41 23h1v1h-1zM3 21h1v1h-1z"/><path fill="#fd8d3c" d="M6 10h1v1h-1zM6 11h1v1h-1zM7 10h1v1h-1zM7 11h1v1h-1zM43 6h1v1h-1zM43 7h1v1h-1zM27 24h1v1h-1zM27 25h1v1h-1zM28 24h1v1h-1zM28 25h1v1h-1zM41 36h1v1h-1zM42 36h1v1h-1zM49 9h1v1h-1zM12 29h1v1h-1zM12 30h1v1h-1zM13 29h1v1h-1zM13 30h1v1h-1zM30 20h1v1h-1zM30 21h1v1h-1zM10 7h1v1h-1z"/><path fill="#fc5b2e" d="M16 46h1v1h-1zM16 0h1v1h-1zM17 46h1v1h-1zM17 0h1v1h-1zM35 2h1v1h-1zM35 3h1v1h-1zM36 2h1v1h-1zM36 3h1v1h-1zM18 42h1v1h-1zM27 22h1v1h-1zM38 0h1v1h-1zM38 1h1v1h-1zM39 0h1v1h-1zM39 1h1v1h-1zM9 9h1v1h-1zM9 10h1v1h-1zM10 9h1v1h-1zM10 10h1v1h-1z"/><path fill="#fc6731" d="M36 29h1v1h-1zM26 4h1v1h-1zM26 5h1v1h-1zM5 26h1v1h-1zM49 20h1v1h-1zM49 21h1v1h-1zM50 20h1v1h-1zM50 21h1v1h-1zM24 13h1v1h-1zM25 13h1v1h-1zM40 25h1v1h-1zM41 25h1v1h-1zM15 42h1v1h-1zM12 25h1v1h-1zM35 40h1v1h-1zM35 41h1v1h-1zM36 40h1v1h-1zM36 41h1v1h-1zM2 28h1v1h-1zM8 16h1v1h-1zM8 17h1v1h-1zM47 24h1v1h-1zM47 21h1v1h-1zM48 21h1v1h-1zM12 38h1v1h-1zM12 39h1v1h-1zM45 44h1v1h-1zM41 40h1v1h-1zM41 41h1v1h-1z"/><path fill="#fd9c42" d="M26 35h1v1h-1zM26 36h1v1h-1zM27 35h1v1h-1zM27 36h1v1h-1z"/></pattern><pattern id="spl" width="47" height="53" patternUnits="userSpaceOnUse" x="299" y="26"><path fill="#fff1a9" d="M3 5h1v1h-1zM10 47h1v1h-1zM11 47h1v1h-1zM15 14h1v1h-1zM32 43h1v1h-1zM32 44h1v1h-1zM33 43h1v1h-1zM33 44h1v1h-1zM23 50h1v1h-1zM23 51h1v1h-1zM24 50h1v1h-1zM24 51h1v1h-1zM29 41h1v1h-1zM29 42h1v1h-1zM30 41h1v1h-1zM30 42h1v1h-1zM39 17h1v1h-1zM39 18h1v1h-1zM43 6h1v1h-1zM43 7h1v1h-1zM44 6h1v1h-1zM44 7h1v1h-1zM46 1h1v1h-1zM0 1h1v1h-1zM39 40h1v1h-1zM25 31h1v1h-1zM25 32h1v1h-1zM26 31h1v1h-1zM26 32h1v1h-1zM8 42h1v1h-1zM8 10h1v1h-1zM45 2h1v1h-1zM16 43h1v1h-1zM16 44h1v1h-1zM0 9h1v1h-1zM46 5h1v1h-1zM1 11h1v1h-1zM34 41h1v1h-1zM34 42h1v1h-1zM11 6h1v1h-1zM11 7h1v1h-1zM33 7h1v1h-1zM33 8h1v1h-1zM34 7h1v1h-1zM34 8h1v1h-1zM43 26h1v1h-1zM0 18h1v1h-1zM23 25h1v1h-1zM23 26h1v1h-1zM22 25h1v1h-1zM46 45h1v1h-1zM46 46h1v1h-1zM29 9h1v1h-1zM30 9h1v1h-1zM43 18h1v1h-1zM43 19h1v1h-1zM36 6h1v1h-1zM5 43h1v1h-1zM43 21h1v1h-1zM43 22h1v1h-1zM24 47h1v1h-1zM3 30h1v1h-1zM4 30h1v1h-1zM24 40h1v1h-1zM46 36h1v1h-1zM46 37h1v1h-1zM0 36h1v1h-1zM0 37h1v1h-1zM31 51h1v1h-1zM31 52h1v1h-1zM32 51h1v1h-1zM32 52h1v1h-1zM13 48h1v1h-1zM5 39h1v1h-1zM6 39h1v1h-1zM35 14h1v1h-1zM35 15h1v1h-1zM36 14h1v1h-1zM36 15h1v1h-1zM4 21h1v1h-1zM4 22h1v1h-1zM43 23h1v1h-1zM40 42h1v1h-1zM25 30h1v1h-1zM11 20h1v1h-1zM11 21h1v1h-1zM1 6h1v1h-1zM2 6h1v1h-1zM9 23h1v1h-1zM10 23h1v1h-1zM39 3h1v1h-1zM25 14h1v1h-1zM28 37h1v1h-1zM19 29h1v1h-1zM42 22h1v1h-1zM9 27h1v1h-1zM34 3h1v1h-1zM0 52h1v1h-1zM0 0h1v1h-1zM1 52h1v1h-1zM1 0h1v1h-1zM33 15h1v1h-1zM43 10h1v1h-1zM43 11h1v1h-1zM44 10h1v1h-1zM44 11h1v1h-1zM9 40h1v1h-1zM27 8h1v1h-1zM27 9h1v1h-1zM35 48h1v1h-1zM1 13h1v1h-1zM1 14h1v1h-1zM28 29h1v1h-1zM29 29h1v1h-1zM30 36h1v1h-1zM31 36h1v1h-1zM34 52h1v1h-1zM35 52h1v1h-1zM37 36h1v1h-1zM7 29h1v1h-1zM7 30h1v1h-1zM24 18h1v1h-1zM43 0h1v1h-1zM6 23h1v1h-1zM6 24h1v1h-1zM7 23h1v1h-1zM7 24h1v1h-1zM6 38h1v1h-1zM7 38h1v1h-1zM9 1h1v1h-1zM27 27h1v1h-1zM27 28h1v1h-1zM36 50h1v1h-1zM27 38h1v1h-1zM27 39h1v1h-1zM38 8h1v1h-1zM39 8h1v1h-1zM28 30h1v1h-1zM28 31h1v1h-1zM27 17h1v1h-1zM35 22h1v1h-1zM20 36h1v1h-1zM20 37h1v1h-1zM13 29h1v1h-1zM23 20h1v1h-1zM23 21h1v1h-1zM24 20h1v1h-1zM24 21h1v1h-1zM33 38h1v1h-1zM33 39h1v1h-1zM0 30h1v1h-1zM0 31h1v1h-1zM1 30h1v1h-1zM1 31h1v1h-1zM39 20h1v1h-1zM17 5h1v1h-1zM17 6h1v1h-1zM18 5h1v1h-1zM18 6h1v1h-1zM41 46h1v1h-1zM41 47h1v1h-1zM42 46h1v1h-1zM42 47h1v1h-1zM37 29h1v1h-1zM23 30h1v1h-1zM23 31h1v1h-1zM8 11h1v1h-1zM8 12h1v1h-1zM9 11h1v1h-1zM9 12h1v1h-1zM1 20h1v1h-1zM45 39h1v1h-1zM27 46h1v1h-1zM1 48h1v1h-1zM5 11h1v1h-1zM5 12h1v1h-1zM8 43h1v1h-1zM8 44h1v1h-1zM8 32h1v1h-1zM20 14h1v1h-1zM25 1h1v1h-1zM25 2h1v1h-1zM26 1h1v1h-1zM26 2h1v1h-1zM16 22h1v1h-1zM16 23h1v1h-1zM17 22h1v1h-1zM17 23h1v1h-1zM27 14h1v1h-1zM27 29h1v1h-1zM11 41h1v1h-1zM11 42h1v1h-1zM23 43h1v1h-1z"/><path fill="#ffeda0" d="M13 38h1v1h-1zM27 33h1v1h-1zM11 8h1v1h-1zM11 9h1v1h-1zM12 8h1v1h-1zM12 9h1v1h-1zM28 10h1v1h-1zM28 11h1v1h-1zM17 31h1v1h-1zM17 32h1v1h-1zM18 31h1v1h-1zM18 32h1v1h-1zM35 46h1v1h-1zM35 47h1v1h-1zM45 32h1v1h-1zM45 33h1v1h-1zM46 32h1v1h-1zM46 33h1v1h-1zM41 39h1v1h-1zM41 40h1v1h-1zM42 39h1v1h-1zM42 40h1v1h-1zM46 13h1v1h-1zM46 14h1v1h-1zM41 3h1v1h-1zM42 3h1v1h-1zM23 11h1v1h-1zM31 1h1v1h-1zM32 1h1v1h-1zM25 39h1v1h-1zM1 28h1v1h-1zM21 16h1v1h-1zM22 16h1v1h-1zM26 41h1v1h-1zM14 39h1v1h-1zM14 40h1v1h-1zM15 39h1v1h-1zM15 40h1v1h-1zM1 33h1v1h-1zM1 34h1v1h-1zM13 46h1v1h-1zM13 47h1v1h-1zM29 13h1v1h-1zM29 14h1v1h-1zM30 13h1v1h-1zM30 14h1v1h-1zM41 25h1v1h-1zM31 38h1v1h-1zM32 38h1v1h-1zM44 43h1v1h-1zM18 24h1v1h-1zM18 7h1v1h-1zM27 6h1v1h-1zM28 6h1v1h-1zM36 46h1v1h-1zM45 46h1v1h-1zM45 47h1v1h-1zM33 45h1v1h-1zM33 46h1v1h-1zM12 17h1v1h-1zM12 18h1v1h-1zM13 17h1v1h-1zM13 18h1v1h-1zM39 43h1v1h-1zM39 44h1v1h-1zM32 36h1v1h-1zM29 17h1v1h-1zM29 18h1v1h-1zM30 17h1v1h-1zM30 18h1v1h-1zM31 24h1v1h-1zM31 25h1v1h-1zM9 0h1v1h-1zM10 0h1v1h-1zM0 23h1v1h-1zM13 43h1v1h-1zM14 43h1v1h-1zM8 30h1v1h-1zM8 31h1v1h-1zM9 30h1v1h-1zM9 31h1v1h-1zM19 21h1v1h-1zM20 21h1v1h-1zM25 33h1v1h-1zM13 25h1v1h-1zM13 26h1v1h-1zM14 25h1v1h-1zM14 26h1v1h-1zM9 51h1v1h-1zM9 52h1v1h-1zM10 51h1v1h-1zM10 52h1v1h-1zM31 28h1v1h-1zM32 28h1v1h-1zM10 6h1v1h-1zM21 17h1v1h-1zM21 18h1v1h-1zM22 17h1v1h-1zM22 18h1v1h-1zM25 48h1v1h-1zM26 48h1v1h-1zM24 34h1v1h-1zM25 34h1v1h-1zM2 21h1v1h-1zM3 21h1v1h-1zM8 20h1v1h-1zM8 21h1v1h-1zM9 20h1v1h-1zM9 21h1v1h-1zM44 29h1v1h-1zM30 15h1v1h-1zM35 1h1v1h-1zM7 15h1v1h-1zM3 39h1v1h-1zM12 19h1v1h-1zM13 19h1v1h-1zM19 51h1v1h-1zM25 37h1v1h-1zM40 1h1v1h-1zM41 1h1v1h-1zM33 36h1v1h-1zM26 42h1v1h-1zM34 46h1v1h-1zM34 47h1v1h-1zM12 27h1v1h-1zM12 37h1v1h-1zM12 38h1v1h-1zM41 5h1v1h-1zM41 6h1v1h-1zM19 14h1v1h-1zM21 37h1v1h-1zM21 38h1v1h-1zM22 37h1v1h-1zM22 38h1v1h-1zM33 26h1v1h-1zM35 3h1v1h-1zM36 3h1v1h-1zM27 25h1v1h-1zM31 37h1v1h-1zM30 2h1v1h-1zM13 20h1v1h-1zM6 41h1v1h-1zM6 42h1v1h-1zM7 41h1v1h-1zM7 42h1v1h-1zM43 42h1v1h-1zM8 2h1v1h-1zM9 2h1v1h-1zM22 48h1v1h-1zM23 48h1v1h-1zM40 0h1v1h-1zM41 0h1v1h-1zM4 44h1v1h-1zM4 45h1v1h-1zM5 44h1v1h-1zM5 45h1v1h-1zM37 48h1v1h-1zM38 48h1v1h-1zM12 6h1v1h-1zM5 32h1v1h-1zM6 32h1v1h-1zM14 3h1v1h-1zM14 4h1v1h-1zM15 3h1v1h-1zM15 4h1v1h-1zM40 26h1v1h-1zM40 27h1v1h-1zM41 26h1v1h-1zM41 27h1v1h-1zM40 2h1v1h-1zM40 3h1v1h-1zM1 35h1v1h-1zM1 36h1v1h-1zM43 17h1v1h-1zM39 29h1v1h-1zM18 48h1v1h-1zM19 48h1v1h-1zM7 27h1v1h-1zM7 28h1v1h-1zM8 27h1v1h-1zM8 28h1v1h-1zM42 41h1v1h-1zM31 45h1v1h-1zM45 50h1v1h-1zM46 50h1v1h-1zM42 0h1v1h-1zM42 1h1v1h-1zM15 28h1v1h-1zM22 1h1v1h-1zM23 1h1v1h-1zM17 37h1v1h-1zM30 47h1v1h-1zM31 47h1v1h-1zM17 9h1v1h-1zM17 10h1v1h-1zM35 13h1v1h-1zM12 2h1v1h-1zM13 2h1v1h-1zM23 49h1v1h-1zM26 43h1v1h-1zM27 43h1v1h-1zM21 27h1v1h-1zM21 28h1v1h-1zM11 12h1v1h-1zM11 13h1v1h-1zM12 12h1v1h-1zM12 13h1v1h-1zM29 43h1v1h-1zM29 44h1v1h-1zM25 9h1v1h-1zM17 51h1v1h-1zM18 51h1v1h-1zM19 36h1v1h-1zM19 37h1v1h-1zM27 36h1v1h-1zM28 36h1v1h-1zM12 36h1v1h-1zM16 35h1v1h-1zM17 35h1v1h-1z"/><path fill="#ffe998" d="M10 27h1v1h-1zM10 28h1v1h-1zM32 23h1v1h-1zM32 24h1v1h-1zM33 23h1v1h-1zM33 24h1v1h-1zM32 17h1v1h-1zM23 29h1v1h-1zM24 29h1v1h-1zM28 50h1v1h-1zM28 51h1v1h-1zM22 42h1v1h-1zM22 43h1v1h-1zM29 22h1v1h-1zM29 23h1v1h-1zM30 22h1v1h-1zM30 23h1v1h-1zM14 20h1v1h-1zM43 39h1v1h-1zM21 46h1v1h-1zM17 15h1v1h-1zM24 37h1v1h-1zM38 47h1v1h-1zM14 5h1v1h-1zM15 5h1v1h-1zM40 14h1v1h-1zM40 15h1v1h-1zM41 14h1v1h-1zM41 15h1v1h-1zM12 49h1v1h-1zM46 4h1v1h-1zM7 5h1v1h-1zM7 6h1v1h-1zM8 5h1v1h-1zM8 6h1v1h-1zM1 39h1v1h-1zM1 40h1v1h-1zM33 30h1v1h-1zM33 31h1v1h-1zM34 9h1v1h-1zM34 10h1v1h-1zM10 10h1v1h-1zM10 11h1v1h-1zM15 25h1v1h-1zM16 25h1v1h-1zM21 45h1v1h-1zM39 12h1v1h-1zM39 13h1v1h-1zM6 1h1v1h-1zM6 2h1v1h-1zM13 6h1v1h-1zM13 7h1v1h-1zM31 34h1v1h-1zM19 4h1v1h-1zM20 4h1v1h-1zM19 2h1v1h-1zM7 7h1v1h-1zM7 8h1v1h-1zM8 45h1v1h-1zM8 46h1v1h-1zM8 14h1v1h-1zM9 14h1v1h-1zM40 24h1v1h-1zM40 25h1v1h-1zM31 6h1v1h-1zM12 15h1v1h-1zM4 27h1v1h-1zM4 28h1v1h-1zM30 31h1v1h-1zM30 32h1v1h-1zM31 31h1v1h-1zM31 32h1v1h-1zM32 34h1v1h-1zM32 35h1v1h-1zM33 28h1v1h-1zM41 29h1v1h-1zM21 39h1v1h-1zM21 40h1v1h-1zM33 48h1v1h-1zM33 49h1v1h-1zM30 34h1v1h-1zM20 2h1v1h-1zM11 48h1v1h-1zM29 40h1v1h-1zM30 40h1v1h-1zM44 52h1v1h-1zM45 52h1v1h-1zM40 30h1v1h-1zM41 42h1v1h-1zM41 43h1v1h-1zM42 42h1v1h-1zM42 43h1v1h-1zM34 16h1v1h-1zM35 16h1v1h-1zM10 38h1v1h-1zM10 39h1v1h-1zM40 37h1v1h-1zM40 38h1v1h-1zM8 39h1v1h-1zM8 40h1v1h-1zM3 34h1v1h-1zM3 35h1v1h-1zM4 34h1v1h-1zM4 35h1v1h-1zM39 9h1v1h-1zM40 9h1v1h-1zM17 30h1v1h-1zM22 23h1v1h-1zM23 23h1v1h-1zM34 45h1v1h-1zM18 1h1v1h-1zM23 7h1v1h-1zM23 8h1v1h-1zM24 7h1v1h-1zM24 8h1v1h-1zM36 11h1v1h-1zM36 12h1v1h-1zM37 11h1v1h-1zM37 12h1v1h-1zM16 45h1v1h-1zM1 27h1v1h-1zM2 27h1v1h-1zM33 29h1v1h-1zM45 44h1v1h-1zM46 44h1v1h-1zM25 11h1v1h-1zM26 11h1v1h-1zM23 15h1v1h-1zM24 15h1v1h-1zM43 12h1v1h-1zM43 13h1v1h-1zM44 12h1v1h-1zM44 13h1v1h-1zM31 39h1v1h-1zM5 29h1v1h-1zM17 25h1v1h-1zM17 26h1v1h-1zM18 25h1v1h-1zM18 26h1v1h-1zM29 11h1v1h-1zM3 9h1v1h-1zM22 40h1v1h-1zM23 40h1v1h-1zM9 46h1v1h-1zM18 19h1v1h-1zM5 9h1v1h-1zM6 9h1v1h-1zM45 9h1v1h-1zM46 9h1v1h-1zM14 36h1v1h-1zM0 44h1v1h-1zM12 50h1v1h-1zM12 51h1v1h-1zM24 49h1v1h-1zM25 49h1v1h-1zM36 0h1v1h-1zM37 0h1v1h-1zM6 47h1v1h-1zM12 32h1v1h-1zM12 33h1v1h-1zM10 4h1v1h-1zM11 4h1v1h-1zM14 10h1v1h-1zM14 11h1v1h-1zM10 1h1v1h-1zM10 2h1v1h-1zM11 1h1v1h-1zM11 2h1v1h-1z"/><path fill="#fff4b2" d="M12 47h1v1h-1zM3 27h1v1h-1zM5 7h1v1h-1zM15 9h1v1h-1zM28 4h1v1h-1zM29 4h1v1h-1zM1 37h1v1h-1zM1 38h1v1h-1zM2 37h1v1h-1zM2 38h1v1h-1zM44 23h1v1h-1zM45 23h1v1h-1zM25 16h1v1h-1zM22 28h1v1h-1zM22 29h1v1h-1zM4 46h1v1h-1zM4 47h1v1h-1zM26 23h1v1h-1zM27 23h1v1h-1zM34 39h1v1h-1zM34 40h1v1h-1zM35 39h1v1h-1zM35 40h1v1h-1zM43 32h1v1h-1zM44 35h1v1h-1zM1 12h1v1h-1zM2 12h1v1h-1zM44 14h1v1h-1zM45 14h1v1h-1zM11 10h1v1h-1zM11 11h1v1h-1zM12 10h1v1h-1zM12 11h1v1h-1zM8 29h1v1h-1zM9 29h1v1h-1zM45 45h1v1h-1zM8 13h1v1h-1zM9 47h1v1h-1zM43 34h1v1h-1zM39 34h1v1h-1zM9 48h1v1h-1zM9 49h1v1h-1zM10 48h1v1h-1zM10 49h1v1h-1z"/></pattern><pattern id="spr" width="43" height="41" patternUnits="userSpaceOnUse" x="299" y="26"><path fill="#c50524" d="M15 37h1v1h-1zM15 38h1v1h-1zM16 37h1v1h-1zM16 38h1v1h-1zM30 16h1v1h-1zM30 17h1v1h-1zM31 16h1v1h-1zM31 17h1v1h-1zM18 27h1v1h-1zM18 28h1v1h-1zM4 6h1v1h-1zM4 7h1v1h-1zM5 6h1v1h-1zM5 7h1v1h-1zM38 16h1v1h-1zM39 16h1v1h-1zM33 34h1v1h-1zM33 35h1v1h-1zM2 7h1v1h-1zM40 2h1v1h-1zM40 3h1v1h-1zM41 2h1v1h-1zM41 3h1v1h-1zM30 9h1v1h-1zM36 32h1v1h-1zM36 33h1v1h-1zM37 32h1v1h-1zM37 33h1v1h-1zM12 16h1v1h-1zM13 16h1v1h-1zM28 26h1v1h-1zM28 27h1v1h-1zM12 32h1v1h-1zM13 32h1v1h-1zM35 32h1v1h-1zM35 33h1v1h-1zM18 9h1v1h-1zM16 26h1v1h-1zM12 8h1v1h-1zM22 38h1v1h-1zM20 4h1v1h-1z"/><path fill="#e8241f" d="M30 40h1v1h-1zM30 0h1v1h-1zM31 40h1v1h-1zM31 0h1v1h-1zM41 13h1v1h-1zM41 14h1v1h-1zM42 13h1v1h-1zM42 14h1v1h-1zM32 12h1v1h-1zM32 13h1v1h-1zM30 3h1v1h-1zM31 3h1v1h-1zM21 27h1v1h-1zM37 4h1v1h-1zM37 5h1v1h-1zM1 21h1v1h-1zM30 18h1v1h-1zM30 19h1v1h-1zM31 18h1v1h-1zM31 19h1v1h-1zM31 25h1v1h-1zM10 25h1v1h-1zM10 26h1v1h-1zM25 28h1v1h-1zM1 9h1v1h-1zM2 9h1v1h-1zM9 34h1v1h-1zM35 2h1v1h-1zM35 3h1v1h-1zM10 2h1v1h-1zM39 25h1v1h-1zM39 26h1v1h-1zM40 25h1v1h-1zM40 26h1v1h-1zM29 25h1v1h-1zM6 8h1v1h-1z"/><path fill="#d41020" d="M30 34h1v1h-1zM30 35h1v1h-1zM31 34h1v1h-1zM31 35h1v1h-1zM36 22h1v1h-1zM36 23h1v1h-1zM37 22h1v1h-1zM37 23h1v1h-1zM26 18h1v1h-1zM26 19h1v1h-1zM27 18h1v1h-1zM27 19h1v1h-1zM19 27h1v1h-1zM20 27h1v1h-1zM37 40h1v1h-1zM31 1h1v1h-1zM31 2h1v1h-1zM32 1h1v1h-1zM32 2h1v1h-1zM23 16h1v1h-1zM23 17h1v1h-1zM7 10h1v1h-1zM7 11h1v1h-1zM8 10h1v1h-1zM8 11h1v1h-1zM17 8h1v1h-1zM25 3h1v1h-1zM26 3h1v1h-1zM40 31h1v1h-1zM41 31h1v1h-1zM29 39h1v1h-1zM29 40h1v1h-1zM15 26h1v1h-1zM20 30h1v1h-1zM15 12h1v1h-1zM16 12h1v1h-1zM23 23h1v1h-1zM23 24h1v1h-1zM7 9h1v1h-1zM8 9h1v1h-1zM25 12h1v1h-1zM25 13h1v1h-1zM26 12h1v1h-1zM26 13h1v1h-1zM0 6h1v1h-1zM22 2h1v1h-1zM22 3h1v1h-1zM11 26h1v1h-1zM26 28h1v1h-1zM24 31h1v1h-1zM19 7h1v1h-1zM19 8h1v1h-1zM20 34h1v1h-1zM34 0h1v1h-1zM34 1h1v1h-1zM15 33h1v1h-1zM17 16h1v1h-1zM17 17h1v1h-1zM39 17h1v1h-1zM34 37h1v1h-1zM34 38h1v1h-1zM39 33h1v1h-1zM39 34h1v1h-1zM40 33h1v1h-1zM40 34h1v1h-1zM22 29h1v1h-1zM22 30h1v1h-1zM23 29h1v1h-1zM23 30h1v1h-1z"/><path fill="#b10026" d="M9 14h1v1h-1zM0 4h1v1h-1zM24 27h1v1h-1zM24 28h1v1h-1zM10 20h1v1h-1zM10 21h1v1h-1zM11 20h1v1h-1zM11 21h1v1h-1zM24 24h1v1h-1zM24 25h1v1h-1zM4 22h1v1h-1zM4 23h1v1h-1zM1 20h1v1h-1zM2 20h1v1h-1zM5 36h1v1h-1zM22 35h1v1h-1zM22 36h1v1h-1zM26 35h1v1h-1zM27 35h1v1h-1zM32 22h1v1h-1zM33 22h1v1h-1zM36 7h1v1h-1zM1 8h1v1h-1zM5 3h1v1h-1zM5 4h1v1h-1zM18 24h1v1h-1zM19 24h1v1h-1zM35 6h1v1h-1zM35 7h1v1h-1zM4 27h1v1h-1zM5 27h1v1h-1zM34 13h1v1h-1zM34 14h1v1h-1zM37 7h1v1h-1zM37 8h1v1h-1zM38 7h1v1h-1zM38 8h1v1h-1zM3 33h1v1h-1z"/><path fill="#cc0a22" d="M19 1h1v1h-1zM20 1h1v1h-1zM16 27h1v1h-1zM17 27h1v1h-1zM14 28h1v1h-1zM13 36h1v1h-1zM13 37h1v1h-1zM2 33h1v1h-1zM36 11h1v1h-1zM37 11h1v1h-1zM7 15h1v1h-1zM7 21h1v1h-1zM6 35h1v1h-1zM38 13h1v1h-1zM38 14h1v1h-1zM41 35h1v1h-1zM18 2h1v1h-1zM19 2h1v1h-1zM17 4h1v1h-1zM17 5h1v1h-1zM7 31h1v1h-1zM7 32h1v1h-1zM8 31h1v1h-1zM8 32h1v1h-1zM36 18h1v1h-1zM21 22h1v1h-1zM20 6h1v1h-1zM7 22h1v1h-1zM22 17h1v1h-1zM3 39h1v1h-1zM6 29h1v1h-1zM6 30h1v1h-1zM12 39h1v1h-1zM12 40h1v1h-1zM28 4h1v1h-1zM28 19h1v1h-1zM29 19h1v1h-1zM15 4h1v1h-1zM16 4h1v1h-1zM8 30h1v1h-1zM9 30h1v1h-1zM35 39h1v1h-1zM36 39h1v1h-1zM35 31h1v1h-1zM1 34h1v1h-1zM2 34h1v1h-1zM11 38h1v1h-1zM40 5h1v1h-1zM15 36h1v1h-1z"/><path fill="#db151e" d="M8 23h1v1h-1zM0 26h1v1h-1zM0 27h1v1h-1zM1 26h1v1h-1zM1 27h1v1h-1zM11 23h1v1h-1zM17 15h1v1h-1zM18 15h1v1h-1zM6 6h1v1h-1zM6 7h1v1h-1zM7 6h1v1h-1zM7 7h1v1h-1zM5 39h1v1h-1zM6 39h1v1h-1zM33 17h1v1h-1zM33 18h1v1h-1zM26 36h1v1h-1zM26 37h1v1h-1zM24 5h1v1h-1zM24 6h1v1h-1zM25 5h1v1h-1zM25 6h1v1h-1zM9 25h1v1h-1zM30 24h1v1h-1zM21 0h1v1h-1zM25 22h1v1h-1zM23 39h1v1h-1zM27 13h1v1h-1zM27 14h1v1h-1zM16 23h1v1h-1zM17 23h1v1h-1zM2 3h1v1h-1zM1 14h1v1h-1zM5 1h1v1h-1zM26 16h1v1h-1zM27 16h1v1h-1zM42 38h1v1h-1zM42 39h1v1h-1zM0 38h1v1h-1zM0 39h1v1h-1zM36 20h1v1h-1zM41 28h1v1h-1zM13 20h1v1h-1zM13 21h1v1h-1zM35 23h1v1h-1z"/><path fill="#a50026" d="M21 1h1v1h-1zM22 1h1v1h-1zM32 17h1v1h-1zM32 18h1v1h-1zM14 2h1v1h-1zM14 3h1v1h-1zM30 20h1v1h-1zM42 33h1v1h-1zM42 34h1v1h-1zM36 34h1v1h-1zM11 4h1v1h-1zM14 34h1v1h-1zM15 34h1v1h-1zM14 15h1v1h-1zM31 4h1v1h-1zM19 40h1v1h-1zM19 0h1v1h-1zM19 30h1v1h-1zM34 25h1v1h-1zM1 29h1v1h-1zM6 20h1v1h-1zM39 6h1v1h-1zM39 7h1v1h-1zM22 25h1v1h-1zM22 26h1v1h-1zM23 25h1v1h-1zM23 26h1v1h-1zM13 29h1v1h-1zM14 29h1v1h-1zM27 21h1v1h-1zM1 22h1v1h-1zM1 23h1v1h-1zM2 22h1v1h-1zM2 23h1v1h-1zM36 0h1v1h-1zM20 37h1v1h-1zM21 37h1v1h-1z"/><path fill="#e31a1c" d="M5 22h1v1h-1zM1 36h1v1h-1zM5 32h1v1h-1zM5 33h1v1h-1zM6 32h1v1h-1zM6 33h1v1h-1zM29 1h1v1h-1zM17 12h1v1h-1zM27 5h1v1h-1zM19 11h1v1h-1zM8 2h1v1h-1zM8 3h1v1h-1zM42 25h1v1h-1zM23 9h1v1h-1zM23 10h1v1h-1zM1 10h1v1h-1zM1 11h1v1h-1zM2 10h1v1h-1zM2 11h1v1h-1zM11 3h1v1h-1zM41 21h1v1h-1zM42 21h1v1h-1zM0 7h1v1h-1zM15 27h1v1h-1zM15 28h1v1h-1zM27 2h1v1h-1zM28 2h1v1h-1zM40 10h1v1h-1zM40 11h1v1h-1zM41 10h1v1h-1zM41 11h1v1h-1zM26 32h1v1h-1zM27 32h1v1h-1zM10 18h1v1h-1zM41 24h1v1h-1zM41 25h1v1h-1zM18 34h1v1h-1zM18 35h1v1h-1zM19 34h1v1h-1zM19 35h1v1h-1zM36 26h1v1h-1zM36 27h1v1h-1zM24 13h1v1h-1zM41 6h1v1h-1zM41 7h1v1h-1zM42 6h1v1h-1zM42 7h1v1h-1zM5 13h1v1h-1zM6 13h1v1h-1zM30 8h1v1h-1zM31 8h1v1h-1zM41 26h1v1h-1zM41 27h1v1h-1zM42 26h1v1h-1zM42 27h1v1h-1z"/><path fill="#bd0026" d="M39 2h1v1h-1zM39 3h1v1h-1zM17 32h1v1h-1zM29 22h1v1h-1zM30 22h1v1h-1zM2 16h1v1h-1zM29 12h1v1h-1zM2 5h1v1h-1zM3 5h1v1h-1zM4 12h1v1h-1zM4 13h1v1h-1zM25 14h1v1h-1zM17 1h1v1h-1zM18 1h1v1h-1zM24 35h1v1h-1zM25 35h1v1h-1zM15 3h1v1h-1zM1 6h1v1h-1zM18 38h1v1h-1zM18 39h1v1h-1zM23 27h1v1h-1zM39 29h1v1h-1zM39 30h1v1h-1zM40 29h1v1h-1zM40 30h1v1h-1zM26 30h1v1h-1zM26 31h1v1h-1zM27 30h1v1h-1zM27 31h1v1h-1zM30 2h1v1h-1zM29 30h1v1h-1zM29 31h1v1h-1zM30 30h1v1h-1zM30 31h1v1h-1zM29 23h1v1h-1zM30 23h1v1h-1zM10 9h1v1h-1zM38 3h1v1h-1zM38 4h1v1h-1zM22 21h1v1h-1zM23 21h1v1h-1zM32 14h1v1h-1zM33 14h1v1h-1zM0 23h1v1h-1zM24 0h1v1h-1zM24 1h1v1h-1zM37 34h1v1h-1zM38 34h1v1h-1z"/><path fill="#980026" d="M21 20h1v1h-1zM22 20h1v1h-1zM38 35h1v1h-1zM12 0h1v1h-1zM12 1h1v1h-1zM32 27h1v1h-1zM32 28h1v1h-1zM33 27h1v1h-1zM33 28h1v1h-1zM21 14h1v1h-1zM16 7h1v1h-1zM16 8h1v1h-1zM38 37h1v1h-1zM38 38h1v1h-1zM39 37h1v1h-1zM39 38h1v1h-1zM41 16h1v1h-1zM18 17h1v1h-1zM18 18h1v1h-1zM10 13h1v1h-1zM40 7h1v1h-1zM31 13h1v1h-1z"/></pattern><pattern id="spq" width="41" height="43" patternUnits="userSpaceOnUse" x="299" y="26"><path fill="#fd9c42" d="M15 19h1v1h-1zM17 33h1v1h-1zM17 34h1v1h-1zM18 33h1v1h-1zM18 34h1v1h-1zM39 4h1v1h-1zM40 4h1v1h-1zM3 3h1v1h-1zM39 8h1v1h-1zM40 8h1v1h-1zM26 28h1v1h-1zM0 10h1v1h-1zM11 40h1v1h-1zM32 28h1v1h-1zM32 29h1v1h-1zM33 28h1v1h-1zM33 29h1v1h-1zM5 38h1v1h-1zM6 10h1v1h-1zM4 7h1v1h-1zM14 20h1v1h-1zM14 21h1v1h-1zM15 20h1v1h-1zM15 21h1v1h-1zM23 25h1v1h-1zM23 26h1v1h-1zM17 3h1v1h-1zM18 3h1v1h-1zM22 19h1v1h-1zM22 20h1v1h-1zM22 5h1v1h-1zM15 2h1v1h-1zM21 38h1v1h-1zM0 4h1v1h-1zM32 19h1v1h-1zM32 20h1v1h-1zM33 19h1v1h-1zM33 20h1v1h-1zM38 18h1v1h-1zM14 37h1v1h-1zM27 20h1v1h-1zM27 21h1v1h-1zM28 20h1v1h-1zM28 21h1v1h-1zM36 22h1v1h-1zM37 22h1v1h-1zM30 18h1v1h-1zM30 19h1v1h-1zM31 18h1v1h-1zM31 19h1v1h-1zM33 40h1v1h-1zM34 40h1v1h-1zM40 12h1v1h-1zM40 13h1v1h-1zM0 12h1v1h-1zM0 13h1v1h-1zM26 20h1v1h-1zM26 21h1v1h-1zM2 33h1v1h-1z"/><path fill="#feba54" d="M30 9h1v1h-1zM21 9h1v1h-1zM11 18h1v1h-1zM11 19h1v1h-1zM17 40h1v1h-1zM24 14h1v1h-1zM24 15h1v1h-1zM25 14h1v1h-1zM25 15h1v1h-1zM28 1h1v1h-1zM16 38h1v1h-1zM38 30h1v1h-1zM38 31h1v1h-1zM39 30h1v1h-1zM39 31h1v1h-1zM10 6h1v1h-1zM39 1h1v1h-1zM40 38h1v1h-1zM40 39h1v1h-1zM31 7h1v1h-1zM32 7h1v1h-1zM11 16h1v1h-1zM11 17h1v1h-1zM12 16h1v1h-1zM12 17h1v1h-1zM12 5h1v1h-1zM33 33h1v1h-1zM33 34h1v1h-1z"/><path fill="#fd943f" d="M25 35h1v1h-1zM26 35h1v1h-1zM1 41h1v1h-1zM2 41h1v1h-1zM35 19h1v1h-1zM9 41h1v1h-1zM9 42h1v1h-1zM7 33h1v1h-1zM8 33h1v1h-1zM13 14h1v1h-1zM13 15h1v1h-1zM9 20h1v1h-1zM30 41h1v1h-1zM31 41h1v1h-1zM25 31h1v1h-1zM25 24h1v1h-1zM21 35h1v1h-1zM21 36h1v1h-1zM29 24h1v1h-1zM19 24h1v1h-1zM30 27h1v1h-1zM39 20h1v1h-1zM39 21h1v1h-1zM40 20h1v1h-1zM40 21h1v1h-1zM25 9h1v1h-1zM26 9h1v1h-1zM39 11h1v1h-1zM40 11h1v1h-1zM23 12h1v1h-1zM23 13h1v1h-1zM24 12h1v1h-1zM24 13h1v1h-1zM1 33h1v1h-1zM14 39h1v1h-1zM15 39h1v1h-1zM25 38h1v1h-1zM0 16h1v1h-1zM40 30h1v1h-1zM40 31h1v1h-1zM0 30h1v1h-1zM0 31h1v1h-1zM35 0h1v1h-1zM35 1h1v1h-1zM24 21h1v1h-1zM31 33h1v1h-1zM31 34h1v1h-1zM32 33h1v1h-1zM32 34h1v1h-1zM15 22h1v1h-1zM16 22h1v1h-1zM26 31h1v1h-1zM27 17h1v1h-1zM28 17h1v1h-1zM16 42h1v1h-1zM33 6h1v1h-1zM37 42h1v1h-1zM4 42h1v1h-1zM33 3h1v1h-1zM30 7h1v1h-1zM18 12h1v1h-1zM8 27h1v1h-1zM20 6h1v1h-1zM24 33h1v1h-1zM29 28h1v1h-1zM30 28h1v1h-1zM31 27h1v1h-1zM32 27h1v1h-1z"/><path fill="#fea346" d="M3 14h1v1h-1zM3 15h1v1h-1zM4 14h1v1h-1zM4 15h1v1h-1zM27 38h1v1h-1zM28 38h1v1h-1zM2 5h1v1h-1zM38 10h1v1h-1zM39 10h1v1h-1zM9 38h1v1h-1zM26 41h1v1h-1zM15 28h1v1h-1zM15 29h1v1h-1zM25 41h1v1h-1zM3 10h1v1h-1zM3 11h1v1h-1zM38 7h1v1h-1zM38 8h1v1h-1zM7 34h1v1h-1zM9 32h1v1h-1zM19 5h1v1h-1zM20 5h1v1h-1zM34 16h1v1h-1zM26 8h1v1h-1zM0 35h1v1h-1zM9 13h1v1h-1zM10 13h1v1h-1zM16 32h1v1h-1zM16 33h1v1h-1zM37 12h1v1h-1zM2 38h1v1h-1zM3 38h1v1h-1zM11 13h1v1h-1zM38 34h1v1h-1zM38 35h1v1h-1zM18 20h1v1h-1zM18 21h1v1h-1zM19 20h1v1h-1zM19 21h1v1h-1zM0 28h1v1h-1zM8 38h1v1h-1zM2 0h1v1h-1zM3 0h1v1h-1zM23 4h1v1h-1zM9 33h1v1h-1zM10 33h1v1h-1zM10 30h1v1h-1zM10 31h1v1h-1zM11 30h1v1h-1zM11 31h1v1h-1zM6 19h1v1h-1zM10 27h1v1h-1zM22 36h1v1h-1zM22 37h1v1h-1z"/><path fill="#feab49" d="M17 11h1v1h-1zM12 10h1v1h-1zM13 10h1v1h-1zM23 5h1v1h-1zM23 6h1v1h-1zM24 5h1v1h-1zM24 6h1v1h-1zM10 14h1v1h-1zM11 14h1v1h-1zM12 40h1v1h-1zM12 41h1v1h-1zM22 27h1v1h-1zM22 28h1v1h-1zM23 27h1v1h-1zM23 28h1v1h-1zM20 1h1v1h-1zM21 1h1v1h-1zM28 18h1v1h-1zM36 10h1v1h-1zM37 10h1v1h-1zM33 13h1v1h-1zM34 13h1v1h-1zM39 16h1v1h-1zM5 33h1v1h-1zM15 26h1v1h-1zM16 26h1v1h-1zM39 5h1v1h-1zM11 21h1v1h-1zM12 21h1v1h-1zM28 25h1v1h-1zM28 26h1v1h-1zM29 25h1v1h-1zM29 26h1v1h-1zM20 18h1v1h-1zM20 19h1v1h-1zM9 15h1v1h-1zM3 27h1v1h-1zM2 40h1v1h-1zM20 39h1v1h-1zM32 5h1v1h-1zM1 11h1v1h-1zM6 12h1v1h-1zM14 18h1v1h-1zM12 39h1v1h-1zM13 39h1v1h-1zM24 39h1v1h-1zM24 40h1v1h-1zM26 13h1v1h-1zM38 1h1v1h-1zM8 11h1v1h-1zM8 12h1v1h-1zM9 11h1v1h-1zM9 12h1v1h-1zM10 19h1v1h-1zM34 30h1v1h-1zM34 31h1v1h-1zM35 30h1v1h-1zM35 31h1v1h-1zM3 26h1v1h-1zM22 8h1v1h-1zM27 18h1v1h-1z"/><path fill="#feb24c" d="M24 32h1v1h-1zM36 19h1v1h-1zM36 20h1v1h-1zM37 19h1v1h-1zM37 20h1v1h-1zM35 12h1v1h-1zM36 12h1v1h-1zM37 39h1v1h-1zM23 2h1v1h-1zM23 3h1v1h-1zM23 18h1v1h-1zM23 19h1v1h-1zM24 18h1v1h-1zM24 19h1v1h-1zM13 27h1v1h-1zM14 26h1v1h-1zM14 27h1v1h-1zM27 13h1v1h-1zM27 14h1v1h-1zM2 16h1v1h-1zM3 16h1v1h-1zM25 6h1v1h-1zM10 23h1v1h-1zM23 42h1v1h-1zM24 42h1v1h-1zM4 24h1v1h-1zM19 25h1v1h-1zM20 25h1v1h-1zM1 19h1v1h-1zM7 38h1v1h-1zM36 13h1v1h-1zM38 23h1v1h-1zM2 2h1v1h-1zM34 7h1v1h-1zM13 1h1v1h-1zM2 19h1v1h-1zM2 20h1v1h-1zM34 2h1v1h-1zM34 3h1v1h-1zM35 2h1v1h-1zM35 3h1v1h-1zM38 12h1v1h-1zM21 42h1v1h-1zM22 42h1v1h-1zM21 40h1v1h-1zM5 21h1v1h-1zM6 24h1v1h-1zM6 25h1v1h-1zM7 24h1v1h-1zM7 25h1v1h-1zM5 25h1v1h-1zM5 18h1v1h-1z"/><path fill="#fd8d3c" d="M30 17h1v1h-1zM37 15h1v1h-1zM38 15h1v1h-1zM20 36h1v1h-1zM5 27h1v1h-1zM22 4h1v1h-1zM39 23h1v1h-1zM39 24h1v1h-1zM40 23h1v1h-1zM40 24h1v1h-1zM21 16h1v1h-1zM21 17h1v1h-1zM22 16h1v1h-1zM22 17h1v1h-1zM29 36h1v1h-1zM30 36h1v1h-1zM31 42h1v1h-1zM31 0h1v1h-1zM32 42h1v1h-1zM32 0h1v1h-1zM34 11h1v1h-1zM34 12h1v1h-1zM13 3h1v1h-1zM5 30h1v1h-1zM3 8h1v1h-1zM4 8h1v1h-1zM19 37h1v1h-1zM20 37h1v1h-1zM36 38h1v1h-1zM36 39h1v1h-1z"/></pattern><linearGradient id="fg" x1="0" y1="26" x2="0" y2="644" gradientUnits="userSpaceOnUse"><stop offset="0.0000" stop-color="#fedb79"/><stop offset="0.1197" stop-color="#fed976"/><stop offset="0.2168" stop-color="#fed36f"/><stop offset="0.2816" stop-color="#fed673"/><stop offset="0.3786" stop-color="#fedb79"/><stop offset="0.4434" stop-color="#fedc7d"/><stop offset="0.5081" stop-color="#fede80"/><stop offset="0.5728" stop-color="#fedf83"/><stop offset="0.6375" stop-color="#fede80"/><stop offset="0.6618" stop-color="#fed673"/><stop offset="0.6861" stop-color="#fec05b"/><stop offset="0.7104" stop-color="#fea546"/><stop offset="0.7346" stop-color="#fd8d3c"/><stop offset="0.7670" stop-color="#fd7e38"/><stop offset="0.7994" stop-color="#fd7e38"/><stop offset="0.8398" stop-color="#fd933f"/><stop offset="0.8641" stop-color="#feba54"/><stop offset="0.9612" stop-color="#fed673"/><stop offset="1.0000" stop-color="#fec965"/></linearGradient>
<filter id="bl" x="-20%" y="-20%" width="140%" height="140%"><feGaussianBlur stdDeviation="3"/></filter></defs>
<rect x="299" y="26" width="122" height="618" fill="url(#fg)"/>
<g filter="url(#bl)" shape-rendering="auto"><path d="M299,52 L349,38" stroke="#feb751" stroke-width="14" fill="none" stroke-linecap="round" stroke-linejoin="round" opacity="0.7"/><path d="M299,120 L349,102 L421,52" stroke="#fff1a9" stroke-width="9" fill="none" stroke-linecap="round" stroke-linejoin="round" opacity="0.85"/><path d="M345,103 L379,87 L410,72" stroke="#feab49" stroke-width="20" fill="none" stroke-linecap="round" stroke-linejoin="round" opacity="0.85"/><path d="M299,188 L362,165" stroke="#fec662" stroke-width="30" fill="none" stroke-linecap="round" stroke-linejoin="round" opacity="0.5"/><path d="M295,174 L329,158 L358,141 L383,123 L411,105 L425,98" stroke="#fea546" stroke-width="26" fill="none" stroke-linecap="round" stroke-linejoin="round" opacity="0.85"/><path d="M330,146 L360,131 L411,93" stroke="#fff3b0" stroke-width="9" fill="none" stroke-linecap="round" stroke-linejoin="round" opacity="0.9"/><path d="M299,428 L340,420 L421,398" stroke="#ffeb9b" stroke-width="14" fill="none" stroke-linecap="round" stroke-linejoin="round" opacity="0.45"/><path d="M360,448 L421,428" stroke="#fea546" stroke-width="22" fill="none" stroke-linecap="round" stroke-linejoin="round" opacity="0.6"/><path d="M380,425 L421,405" stroke="#feb751" stroke-width="14" fill="none" stroke-linecap="round" stroke-linejoin="round" opacity="0.6"/><ellipse cx="395" cy="385" rx="25" ry="30" fill="#fec965" opacity="0.5" transform="rotate(0 395 385)"/><ellipse cx="410" cy="334" rx="14" ry="8" fill="#feab49" opacity="0.6" transform="rotate(0 410 334)"/><ellipse cx="402" cy="256" rx="22" ry="26" fill="#feba54" opacity="0.5" transform="rotate(-30 402 256)"/><ellipse cx="318" cy="285" rx="22" ry="24" fill="#fec35e" opacity="0.5" transform="rotate(-30 318 285)"/><path d="M318,322 L340,305 L362,288" stroke="#ffeea2" stroke-width="8" fill="none" stroke-linecap="round" stroke-linejoin="round" opacity="0.6"/><path d="M360,282 L421,268" stroke="#febd58" stroke-width="16" fill="none" stroke-linecap="round" stroke-linejoin="round" opacity="0.6"/><path d="M299,200 L360,190 L421,172" stroke="#fec662" stroke-width="24" fill="none" stroke-linecap="round" stroke-linejoin="round" opacity="0.5"/><path d="M299,515 L340,500 L380,485 L421,470" stroke="#fc512b" stroke-width="30" fill="none" stroke-linecap="round" stroke-linejoin="round" opacity="0.45"/><path d="M299,508 L340,490 L372,474" stroke="#fec35e" stroke-width="8" fill="none" stroke-linecap="round" stroke-linejoin="round" opacity="0.6"/><ellipse cx="386" cy="481" rx="22" ry="11" fill="#b10026" opacity="0.8" transform="rotate(-35 386 481)"/><ellipse cx="408" cy="512" rx="14" ry="10" fill="#feb14b" opacity="0.6" transform="rotate(0 408 512)"/><ellipse cx="368" cy="638" rx="12" ry="8" fill="#ed2f22" opacity="0.85" transform="rotate(0 368 638)"/><ellipse cx="404" cy="632" rx="18" ry="12" fill="#febd58" opacity="0.7" transform="rotate(0 404 632)"/><ellipse cx="398" cy="538" rx="8" ry="6" fill="#fec35e" opacity="0.7" transform="rotate(0 398 538)"/></g>
<g shape-rendering="crispEdges"><rect x="299" y="26" width="122" height="618" fill="url(#spo)" mask="url(#my)" opacity="0.6"/>
<rect x="299" y="26" width="122" height="618" fill="url(#spl)" mask="url(#my)" opacity="0.6"/>
<rect x="299" y="26" width="122" height="618" fill="url(#spr)" mask="url(#mr)" opacity="0.65"/>
<rect x="299" y="26" width="122" height="618" fill="url(#spq)" mask="url(#mr)" opacity="0.6"/></g>
<rect x="299" y="26" width="122" height="618" fill="#808080" mask="url(#gm)"/>
<g fill="#cdcdcd"><g clip-path="url(#z03)"><polygon points="352.00,292.00 355.00,291.00 358.00,290.00 360.00,289.00 360.00,295.00 358.00,297.00 357.00,299.00 354.00,296.00 352.50,295.00"/></g>
<g clip-path="url(#z13)"><polygon points="360.00,295.00 363.00,294.50 363.00,299.00 360.00,299.50"/><polygon points="371.00,301.00 375.00,300.00 380.00,301.00 381.00,303.00 378.00,304.00 375.00,304.50 372.00,303.50"/><polygon points="399.50,298.00 402.00,297.00 404.00,298.00 404.50,301.00 404.00,302.50 401.00,301.00 399.50,300.00"/><polygon points="401.00,311.00 404.00,309.50 407.00,310.00 409.00,312.00 408.00,315.00 405.00,315.50 402.00,314.50 400.50,313.00"/><polygon points="385.00,330.00 387.00,328.00 390.00,332.00 392.00,335.00 389.00,336.00 386.00,334.00"/><polygon points="396.00,330.00 399.00,328.00 400.00,332.00 398.00,333.00 396.00,332.00"/><polygon points="370.00,336.00 374.00,335.00 375.00,339.00 372.00,340.00 370.00,339.00"/></g></g>
</g>
</g>
<rect x="298.5" y="25.5" width="123" height="619" fill="none" stroke="#000" stroke-width="1"/>
<g stroke="#000" stroke-width="1">
<line x1="291" y1="644.5" x2="298" y2="644.5"/>
<line x1="295" y1="623.5" x2="298" y2="623.5"/>
<line x1="295" y1="603.5" x2="298" y2="603.5"/>
<line x1="295" y1="582.5" x2="298" y2="582.5"/>
<line x1="295" y1="561.5" x2="298" y2="561.5"/>
<line x1="291" y1="541.5" x2="298" y2="541.5"/>
<line x1="295" y1="520.5" x2="298" y2="520.5"/>
<line x1="295" y1="500.5" x2="298" y2="500.5"/>
<line x1="295" y1="479.5" x2="298" y2="479.5"/>
<line x1="295" y1="458.5" x2="298" y2="458.5"/>
<line x1="291" y1="438.5" x2="298" y2="438.5"/>
<line x1="295" y1="417.5" x2="298" y2="417.5"/>
<line x1="295" y1="396.5" x2="298" y2="396.5"/>
<line x1="295" y1="376.5" x2="298" y2="376.5"/>
<line x1="295" y1="355.5" x2="298" y2="355.5"/>
<line x1="291" y1="335.5" x2="298" y2="335.5"/>
<line x1="295" y1="314.5" x2="298" y2="314.5"/>
<line x1="295" y1="293.5" x2="298" y2="293.5"/>
<line x1="295" y1="273.5" x2="298" y2="273.5"/>
<line x1="295" y1="252.5" x2="298" y2="252.5"/>
<line x1="291" y1="231.5" x2="298" y2="231.5"/>
<line x1="295" y1="211.5" x2="298" y2="211.5"/>
<line x1="295" y1="190.5" x2="298" y2="190.5"/>
<line x1="295" y1="169.5" x2="298" y2="169.5"/>
<line x1="295" y1="149.5" x2="298" y2="149.5"/>
<line x1="291" y1="128.5" x2="298" y2="128.5"/>
<line x1="295" y1="108.5" x2="298" y2="108.5"/>
<line x1="295" y1="87.5" x2="298" y2="87.5"/>
<line x1="295" y1="66.5" x2="298" y2="66.5"/>
<line x1="295" y1="46.5" x2="298" y2="46.5"/>
<line x1="291" y1="25.5" x2="298" y2="25.5"/>
<line x1="298.5" y1="645" x2="298.5" y2="648"/>
<line x1="318.5" y1="645" x2="318.5" y2="648"/>
<line x1="339.5" y1="645" x2="339.5" y2="648"/>
<line x1="359.5" y1="645" x2="359.5" y2="651"/>
<line x1="380.5" y1="645" x2="380.5" y2="648"/>
<line x1="401.5" y1="645" x2="401.5" y2="648"/>
<line x1="421.5" y1="645" x2="421.5" y2="648"/>
<line x1="48.5" y1="710" x2="48.5" y2="714"/>
<line x1="64.5" y1="710" x2="64.5" y2="713"/>
<line x1="80.5" y1="710" x2="80.5" y2="713"/>
<line x1="96.5" y1="710" x2="96.5" y2="713"/>
<line x1="112.5" y1="710" x2="112.5" y2="714"/>
<line x1="128.5" y1="710" x2="128.5" y2="713"/>
<line x1="144.5" y1="710" x2="144.5" y2="713"/>
<line x1="160.5" y1="710" x2="160.5" y2="713"/>
<line x1="176.5" y1="710" x2="176.5" y2="714"/>
<line x1="192.5" y1="710" x2="192.5" y2="713"/>
<line x1="208.5" y1="710" x2="208.5" y2="713"/>
<line x1="224.5" y1="710" x2="224.5" y2="713"/>
<line x1="240.5" y1="710" x2="240.5" y2="714"/>
<line x1="256.5" y1="710" x2="256.5" y2="713"/>
<line x1="272.5" y1="710" x2="272.5" y2="713"/>
<line x1="288.5" y1="710" x2="288.5" y2="713"/>
<line x1="304.5" y1="710" x2="304.5" y2="714"/>
<line x1="320.5" y1="710" x2="320.5" y2="713"/>
<line x1="336.5" y1="710" x2="336.5" y2="713"/>
<line x1="352.5" y1="710" x2="352.5" y2="713"/>
<line x1="368.5" y1="710" x2="368.5" y2="714"/>
<line x1="384.5" y1="710" x2="384.5" y2="713"/>
<line x1="400.5" y1="710" x2="400.5" y2="713"/>
<line x1="416.5" y1="710" x2="416.5" y2="713"/>
<line x1="432.5" y1="710" x2="432.5" y2="714"/>
<line x1="448.5" y1="710" x2="448.5" y2="713"/>
<line x1="464.5" y1="710" x2="464.5" y2="713"/>
<line x1="480.5" y1="710" x2="480.5" y2="713"/>
<line x1="496.5" y1="710" x2="496.5" y2="714"/>
<line x1="512.5" y1="710" x2="512.5" y2="713"/>
<line x1="528.5" y1="710" x2="528.5" y2="713"/>
<line x1="544.5" y1="710" x2="544.5" y2="713"/>
<line x1="560.5" y1="710" x2="560.5" y2="714"/>
<line x1="576.5" y1="710" x2="576.5" y2="713"/>
<line x1="592.5" y1="710" x2="592.5" y2="713"/>
<line x1="608.5" y1="710" x2="608.5" y2="713"/>
<line x1="624.5" y1="710" x2="624.5" y2="714"/>
<line x1="640.5" y1="710" x2="640.5" y2="713"/>
<line x1="656.5" y1="710" x2="656.5" y2="713"/>
<line x1="672.5" y1="710" x2="672.5" y2="713"/>
<line x1="688.5" y1="710" x2="688.5" y2="714"/>
</g>
<rect x="0.5" y="675.5" width="719" height="124" fill="#ffffcc" stroke="#000" stroke-width="1"/>
<rect x="48" y="692" width="16" height="18" fill="rgb(255,255,204)"/>
<rect x="64" y="692" width="16" height="18" fill="rgb(255,251,195)"/>
<rect x="80" y="692" width="16" height="18" fill="rgb(255,248,186)"/>
<rect x="96" y="692" width="16" height="18" fill="rgb(255,244,177)"/>
<rect x="112" y="692" width="16" height="18" fill="rgb(255,240,168)"/>
<rect x="128" y="692" width="16" height="18" fill="rgb(255,236,159)"/>
<rect x="144" y="692" width="16" height="18" fill="rgb(255,232,150)"/>
<rect x="160" y="692" width="16" height="18" fill="rgb(255,228,142)"/>
<rect x="176" y="692" width="16" height="18" fill="rgb(254,224,133)"/>
<rect x="192" y="692" width="16" height="18" fill="rgb(254,220,124)"/>
<rect x="208" y="692" width="16" height="18" fill="rgb(254,215,116)"/>
<rect x="224" y="692" width="16" height="18" fill="rgb(254,207,107)"/>
<rect x="240" y="692" width="16" height="18" fill="rgb(254,199,99)"/>
<rect x="256" y="692" width="16" height="18" fill="rgb(254,191,90)"/>
<rect x="272" y="692" width="16" height="18" fill="rgb(254,183,81)"/>
<rect x="288" y="692" width="16" height="18" fill="rgb(254,175,75)"/>
<rect x="304" y="692" width="16" height="18" fill="rgb(254,168,71)"/>
<rect x="320" y="692" width="16" height="18" fill="rgb(254,160,68)"/>
<rect x="336" y="692" width="16" height="18" fill="rgb(253,152,65)"/>
<rect x="352" y="692" width="16" height="18" fill="rgb(253,145,62)"/>
<rect x="368" y="692" width="16" height="18" fill="rgb(253,135,58)"/>
<rect x="384" y="692" width="16" height="18" fill="rgb(253,122,54)"/>
<rect x="400" y="692" width="16" height="18" fill="rgb(252,109,51)"/>
<rect x="416" y="692" width="16" height="18" fill="rgb(252,96,47)"/>
<rect x="432" y="692" width="16" height="18" fill="rgb(252,83,43)"/>
<rect x="448" y="692" width="16" height="18" fill="rgb(249,71,40)"/>
<rect x="464" y="692" width="16" height="18" fill="rgb(244,61,37)"/>
<rect x="480" y="692" width="16" height="18" fill="rgb(239,50,34)"/>
<rect x="496" y="692" width="16" height="18" fill="rgb(233,39,32)"/>
<rect x="512" y="692" width="16" height="18" fill="rgb(228,29,29)"/>
<rect x="528" y="692" width="16" height="18" fill="rgb(221,22,30)"/>
<rect x="544" y="692" width="16" height="18" fill="rgb(213,17,32)"/>
<rect x="560" y="692" width="16" height="18" fill="rgb(206,11,34)"/>
<rect x="576" y="692" width="16" height="18" fill="rgb(198,6,36)"/>
<rect x="592" y="692" width="16" height="18" fill="rgb(190,1,38)"/>
<rect x="608" y="692" width="16" height="18" fill="rgb(178,0,38)"/>
<rect x="624" y="692" width="16" height="18" fill="rgb(166,0,38)"/>
<rect x="640" y="692" width="16" height="18" fill="rgb(153,0,38)"/>
<rect x="656" y="692" width="16" height="18" fill="rgb(141,0,38)"/>
<rect x="672" y="692" width="16" height="18" fill="rgb(128,0,38)"/>
<g stroke="#000" stroke-width="1">
<line x1="48.5" y1="710" x2="48.5" y2="714"/><line x1="64.5" y1="710" x2="64.5" y2="713"/><line x1="80.5" y1="710" x2="80.5" y2="713"/><line x1="96.5" y1="710" x2="96.5" y2="713"/><line x1="112.5" y1="710" x2="112.5" y2="714"/><line x1="128.5" y1="710" x2="128.5" y2="713"/><line x1="144.5" y1="710" x2="144.5" y2="713"/><line x1="160.5" y1="710" x2="160.5" y2="713"/><line x1="176.5" y1="710" x2="176.5" y2="714"/><line x1="192.5" y1="710" x2="192.5" y2="713"/><line x1="208.5" y1="710" x2="208.5" y2="713"/><line x1="224.5" y1="710" x2="224.5" y2="713"/><line x1="240.5" y1="710" x2="240.5" y2="714"/><line x1="256.5" y1="710" x2="256.5" y2="713"/><line x1="272.5" y1="710" x2="272.5" y2="713"/><line x1="288.5" y1="710" x2="288.5" y2="713"/><line x1="304.5" y1="710" x2="304.5" y2="714"/><line x1="320.5" y1="710" x2="320.5" y2="713"/><line x1="336.5" y1="710" x2="336.5" y2="713"/><line x1="352.5" y1="710" x2="352.5" y2="713"/><line x1="368.5" y1="710" x2="368.5" y2="714"/><line x1="384.5" y1="710" x2="384.5" y2="713"/><line x1="400.5" y1="710" x2="400.5" y2="713"/><line x1="416.5" y1="710" x2="416.5" y2="713"/><line x1="432.5" y1="710" x2="432.5" y2="714"/><line x1="448.5" y1="710" x2="448.5" y2="713"/><line x1="464.5" y1="710" x2="464.5" y2="713"/><line x1="480.5" y1="710" x2="480.5" y2="713"/><line x1="496.5" y1="710" x2="496.5" y2="714"/><line x1="512.5" y1="710" x2="512.5" y2="713"/><line x1="528.5" y1="710" x2="528.5" y2="713"/><line x1="544.5" y1="710" x2="544.5" y2="713"/><line x1="560.5" y1="710" x2="560.5" y2="714"/><line x1="576.5" y1="710" x2="576.5" y2="713"/><line x1="592.5" y1="710" x2="592.5" y2="713"/><line x1="608.5" y1="710" x2="608.5" y2="713"/><line x1="624.5" y1="710" x2="624.5" y2="714"/><line x1="640.5" y1="710" x2="640.5" y2="713"/><line x1="656.5" y1="710" x2="656.5" y2="713"/><line x1="672.5" y1="710" x2="672.5" y2="713"/><line x1="688.5" y1="710" x2="688.5" y2="714"/>
</g>
<g shape-rendering="auto">
<text transform="translate(289,643.5) rotate(-90)" text-anchor="middle" class="ax" textLength="14" lengthAdjust="spacingAndGlyphs">0°</text>
<text transform="translate(289,540.5) rotate(-90)" text-anchor="middle" class="ax" textLength="14" lengthAdjust="spacingAndGlyphs">5°</text>
<text transform="translate(289,437.5) rotate(-90)" text-anchor="middle" class="ax" textLength="21" lengthAdjust="spacingAndGlyphs">10°</text>
<text transform="translate(289,334.5) rotate(-90)" text-anchor="middle" class="ax" textLength="21" lengthAdjust="spacingAndGlyphs">15°</text>
<text transform="translate(289,230.5) rotate(-90)" text-anchor="middle" class="ax" textLength="21" lengthAdjust="spacingAndGlyphs">20°</text>
<text transform="translate(289,127.5) rotate(-90)" text-anchor="middle" class="ax" textLength="21" lengthAdjust="spacingAndGlyphs">25°</text>
<text transform="translate(289,24.5) rotate(-90)" text-anchor="middle" class="ax" textLength="21" lengthAdjust="spacingAndGlyphs">30°</text>
<text x="360.3" y="664" text-anchor="middle" class="ax" textLength="26.5" lengthAdjust="spacingAndGlyphs">-25°</text>
<text x="48" y="724.5" text-anchor="middle" class="cb">0</text>
<text x="112" y="724.5" text-anchor="middle" class="cb">0.1</text>
<text x="176" y="724.5" text-anchor="middle" class="cb">0.2</text>
<text x="240" y="724.5" text-anchor="middle" class="cb">0.3</text>
<text x="304" y="724.5" text-anchor="middle" class="cb">0.4</text>
<text x="368" y="724.5" text-anchor="middle" class="cb">0.5</text>
<text x="432" y="724.5" text-anchor="middle" class="cb">0.6</text>
<text x="496" y="724.5" text-anchor="middle" class="cb">0.7</text>
<text x="560" y="724.5" text-anchor="middle" class="cb">0.8</text>
<text x="624" y="724.5" text-anchor="middle" class="cb">0.9</text>
<text x="688" y="724.5" text-anchor="middle" class="cb">1</text>
<text x="47.6" y="743" class="lgb" textLength="283.5" lengthAdjust="spacingAndGlyphs">ABI L2+ Aerosol Optical Depth at 550 nm (1)</text>
<text x="47.6" y="754" class="lg" textLength="630" lengthAdjust="spacingAndGlyphs">Experimental NRT AOD 4 hour composite created from ABI L2 data from GOES-19. Fields generated by Atlantic</text>
<text x="47.6" y="765" class="lg" textLength="187.5" lengthAdjust="spacingAndGlyphs">OceanWatch node at NOAA/AOML</text>
<text x="47.6" y="776" class="lg" textLength="139" lengthAdjust="spacingAndGlyphs">(2025-12-15T14:00:00Z)</text>
<text x="47.6" y="787" class="lg" textLength="273" lengthAdjust="spacingAndGlyphs">Data courtesy of USDOC/NOAA/OAR/AOML/PHOD</text>
</g>
</svg>
</body></html>
